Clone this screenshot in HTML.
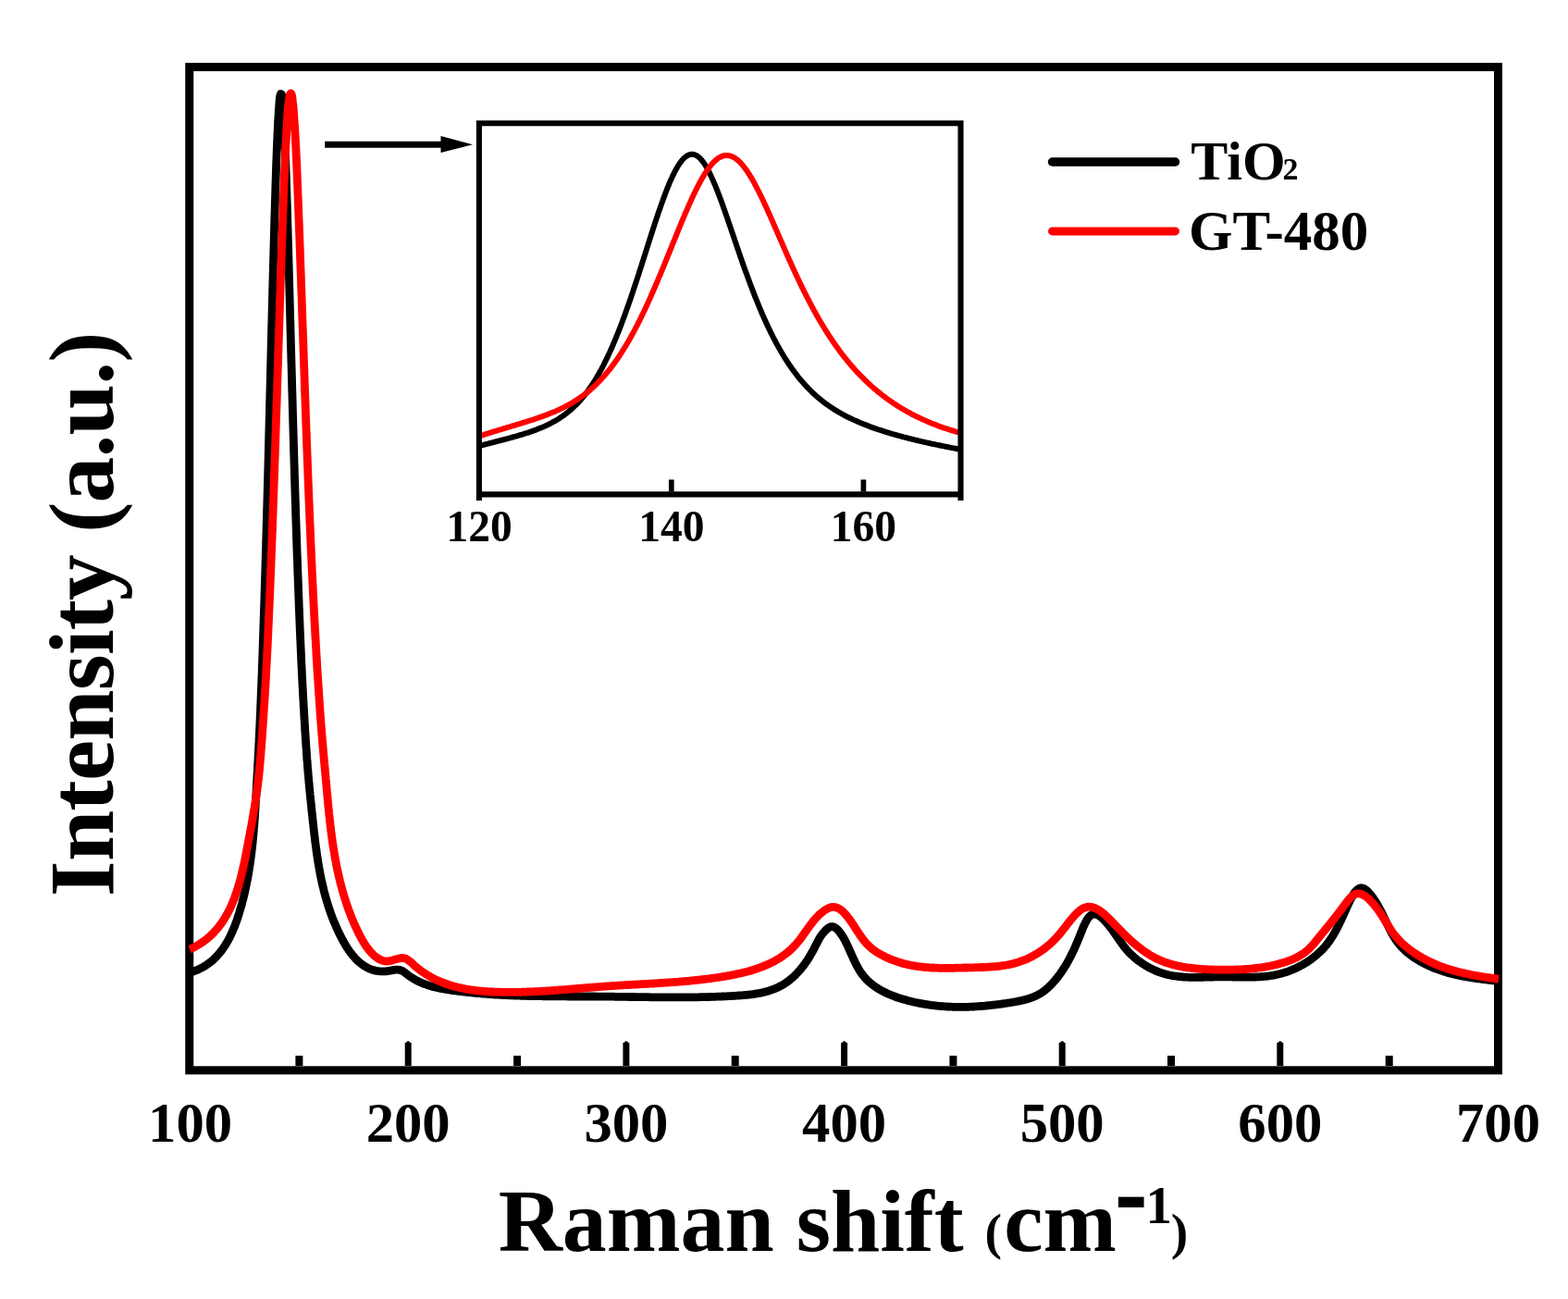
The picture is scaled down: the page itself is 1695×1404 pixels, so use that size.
<!DOCTYPE html>
<html><head><meta charset="utf-8"><title>Raman shift</title>
<style>html,body{margin:0;padding:0;background:#fff;} svg{display:block;}</style>
</head><body>
<svg width="1695" height="1404" viewBox="0 0 1695 1404">
<rect width="1695" height="1404" fill="#fff"/>
<g font-family='"Liberation Serif", "Times New Roman", serif' font-weight="bold" fill="#000">
<text x="205.6" y="1233.5" text-anchor="middle" font-size="60.7">100</text><text x="441.2" y="1233.5" text-anchor="middle" font-size="60.7">200</text><text x="676.9" y="1233.5" text-anchor="middle" font-size="60.7">300</text><text x="912.6" y="1233.5" text-anchor="middle" font-size="60.7">400</text><text x="1148.2" y="1233.5" text-anchor="middle" font-size="60.7">500</text><text x="1383.8" y="1233.5" text-anchor="middle" font-size="60.7">600</text><text x="1619.5" y="1233.5" text-anchor="middle" font-size="60.7">700</text>
<text x="518.2" y="585.3" text-anchor="middle" font-size="47.5">120</text><text x="725.8" y="585.3" text-anchor="middle" font-size="47.5">140</text><text x="933.4" y="585.3" text-anchor="middle" font-size="47.5">160</text>
<text transform="translate(121.6,968.9) rotate(-90)" font-size="99.5" textLength="610.3" lengthAdjust="spacing">Intensity (a.u.)</text>
<text x="538.7" y="1351.7" font-size="95.8">Raman shift</text>
<text x="1064.5" y="1350" font-size="55.6">(</text>
<text x="1085.3" y="1351.7" font-size="95.3">cm</text>
<text transform="matrix(1,0,0,1.26,1205.1,1331.3)" font-size="106.6">-</text>
<text x="1238.4" y="1322.4" font-size="57">1</text>
<text x="1265.7" y="1350" font-size="55.6">)</text>
<text x="1287.3" y="194.3" font-size="60">TiO</text>
<text x="1386.5" y="194" font-size="34">2</text>
<text x="1285" y="269.8" font-size="61">GT-480</text>
</g>
<g fill="none" stroke-linejoin="round" stroke-linecap="butt">
<path d="M204.9,1051.2 L206.3,1050.8 L207.7,1050.3 L209.2,1049.9 L210.6,1049.4 L212.0,1048.8 L213.4,1048.3 L214.7,1047.6 L216.1,1047.0 L217.4,1046.3 L218.8,1045.6 L220.1,1044.9 L221.4,1044.1 L222.6,1043.3 L223.9,1042.5 L225.1,1041.6 L226.3,1040.7 L227.5,1039.8 L228.7,1038.9 L229.8,1037.9 L230.9,1036.9 L232.0,1035.8 L233.1,1034.8 L234.1,1033.7 L235.1,1032.6 L236.1,1031.5 L237.1,1030.3 L238.1,1029.2 L239.0,1028.0 L239.9,1026.8 L240.8,1025.6 L241.6,1024.4 L242.5,1023.1 L243.3,1021.9 L244.1,1020.6 L244.9,1019.3 L245.6,1018.0 L246.4,1016.7 L247.1,1015.4 L247.8,1014.1 L248.5,1012.7 L249.1,1011.4 L249.8,1010.0 L250.4,1008.7 L251.0,1007.3 L251.6,1005.9 L252.2,1004.5 L252.8,1003.2 L253.4,1001.8 L253.9,1000.4 L254.4,999.0 L255.0,997.6 L255.5,996.2 L256.0,994.7 L256.5,993.3 L256.9,991.9 L257.4,990.5 L257.9,989.0 L258.3,987.6 L258.8,986.2 L259.2,984.7 L259.6,983.3 L260.0,981.9 L260.5,980.4 L260.9,979.0 L261.3,977.5 L261.7,976.1 L262.0,974.6 L262.4,973.2 L262.8,971.7 L263.2,970.3 L263.5,968.8 L263.9,967.4 L264.2,965.9 L264.6,964.4 L264.9,963.0 L265.2,961.5 L265.5,960.0 L265.8,958.6 L266.1,957.1 L266.4,955.6 L266.7,954.2 L267.0,952.7 L267.3,951.2 L267.6,949.7 L267.9,948.3 L268.1,946.8 L268.4,945.3 L268.6,943.8 L268.9,942.3 L269.1,940.9 L269.4,939.4 L269.6,937.9 L269.8,936.4 L270.1,934.9 L270.3,933.5 L270.5,932.0 L270.7,930.5 L270.9,929.0 L271.1,927.5 L271.3,926.0 L271.5,924.5 L271.7,923.0 L271.9,921.6 L272.0,920.1 L272.2,918.6 L272.4,917.1 L272.6,915.6 L272.7,914.1 L272.9,912.6 L273.0,911.1 L273.2,909.6 L273.3,908.1 L273.5,906.6 L273.6,905.1 L273.8,903.6 L273.9,902.1 L274.0,900.7 L274.2,899.2 L274.3,897.7 L274.4,896.2 L274.5,894.7 L274.6,893.2 L274.8,891.7 L274.9,890.2 L275.0,888.7 L275.1,887.2 L275.2,885.7 L275.3,884.2 L275.4,882.7 L275.5,881.2 L275.6,879.7 L275.7,878.2 L275.8,876.7 L275.9,875.2 L276.0,873.7 L276.1,872.2 L276.2,870.7 L276.3,869.2 L276.3,867.7 L276.4,866.2 L276.5,864.7 L276.6,863.2 L276.7,861.7 L276.8,860.2 L276.9,858.7 L276.9,857.2 L277.0,855.7 L277.1,854.2 L277.2,852.7 L277.3,851.2 L277.4,849.7 L277.4,848.2 L277.5,846.7 L277.6,845.2 L277.7,843.7 L277.8,842.3 L277.9,840.8 L277.9,839.3 L278.0,837.8 L278.1,836.3 L278.2,834.8 L278.3,833.3 L278.4,831.8 L278.5,830.3 L278.5,828.8 L278.6,827.3 L278.7,825.8 L278.8,824.3 L278.9,822.8 L279.0,821.3 L279.0,819.8 L279.1,818.3 L279.2,816.8 L279.3,815.3 L279.4,813.8 L279.4,812.3 L279.5,810.8 L279.6,809.3 L279.7,807.8 L279.8,806.3 L279.8,804.8 L279.9,803.3 L280.0,801.8 L280.1,800.3 L280.1,798.8 L280.2,797.3 L280.3,795.8 L280.3,794.3 L280.4,792.8 L280.5,791.3 L280.6,789.8 L280.6,788.3 L280.7,786.8 L280.8,785.3 L280.8,783.8 L280.9,782.3 L281.0,780.8 L281.0,779.3 L281.1,777.8 L281.2,776.3 L281.2,774.8 L281.3,773.3 L281.4,771.8 L281.4,770.3 L281.5,768.8 L281.6,767.3 L281.6,765.8 L281.7,764.3 L281.7,762.8 L281.8,761.3 L281.9,759.8 L281.9,758.3 L282.0,756.8 L282.1,755.3 L282.1,753.8 L282.2,752.3 L282.2,750.8 L282.3,749.3 L282.4,747.8 L282.4,746.3 L282.5,744.8 L282.5,743.3 L282.6,741.8 L282.7,740.3 L282.7,738.8 L282.8,737.3 L282.8,735.8 L282.9,734.3 L282.9,732.8 L283.0,731.3 L283.1,729.8 L283.1,728.3 L283.2,726.8 L283.2,725.3 L283.3,723.8 L283.3,722.3 L283.4,720.8 L283.4,719.3 L283.5,717.8 L283.6,716.3 L283.6,714.8 L283.7,713.3 L283.7,711.8 L283.8,710.3 L283.8,708.8 L283.9,707.3 L283.9,705.8 L284.0,704.3 L284.0,702.8 L284.1,701.3 L284.1,699.8 L284.2,698.3 L284.2,696.8 L284.3,695.3 L284.3,693.8 L284.4,692.3 L284.4,690.8 L284.5,689.3 L284.5,687.8 L284.6,686.3 L284.6,684.8 L284.7,683.3 L284.7,681.8 L284.8,680.3 L284.8,678.8 L284.9,677.3 L284.9,675.8 L285.0,674.3 L285.0,672.8 L285.1,671.3 L285.1,669.8 L285.2,668.3 L285.2,666.8 L285.3,665.3 L285.3,663.8 L285.4,662.3 L285.4,660.8 L285.5,659.3 L285.5,657.8 L285.6,656.3 L285.6,654.8 L285.7,653.3 L285.7,651.8 L285.8,650.3 L285.8,648.8 L285.9,647.3 L285.9,645.8 L285.9,644.3 L286.0,642.8 L286.0,641.3 L286.1,639.8 L286.1,638.3 L286.2,636.8 L286.2,635.3 L286.3,633.8 L286.3,632.3 L286.4,630.8 L286.4,629.3 L286.4,627.8 L286.5,626.3 L286.5,624.8 L286.6,623.3 L286.6,621.8 L286.7,620.3 L286.7,618.8 L286.8,617.3 L286.8,615.8 L286.9,614.3 L286.9,612.8 L286.9,611.3 L287.0,609.8 L287.0,608.3 L287.1,606.8 L287.1,605.3 L287.2,603.8 L287.2,602.3 L287.2,600.8 L287.3,599.3 L287.3,597.8 L287.4,596.3 L287.4,594.8 L287.5,593.3 L287.5,591.8 L287.6,590.3 L287.6,588.8 L287.6,587.3 L287.7,585.8 L287.7,584.3 L287.8,582.8 L287.8,581.3 L287.9,579.8 L287.9,578.3 L287.9,576.8 L288.0,575.3 L288.0,573.8 L288.1,572.3 L288.1,570.8 L288.1,569.3 L288.2,567.8 L288.2,566.3 L288.3,564.8 L288.3,563.3 L288.4,561.8 L288.4,560.3 L288.4,558.8 L288.5,557.3 L288.5,555.8 L288.6,554.3 L288.6,552.8 L288.6,551.3 L288.7,549.8 L288.7,548.3 L288.8,546.8 L288.8,545.3 L288.8,543.8 L288.9,542.3 L288.9,540.8 L289.0,539.3 L289.0,537.8 L289.0,536.3 L289.1,534.8 L289.1,533.3 L289.2,531.8 L289.2,530.3 L289.2,528.8 L289.3,527.3 L289.3,525.8 L289.4,524.3 L289.4,522.8 L289.4,521.3 L289.5,519.8 L289.5,518.3 L289.6,516.8 L289.6,515.3 L289.6,513.8 L289.7,512.3 L289.7,510.8 L289.8,509.3 L289.8,507.8 L289.8,506.3 L289.9,504.8 L289.9,503.3 L290.0,501.8 L290.0,500.3 L290.0,498.8 L290.1,497.3 L290.1,495.8 L290.2,494.3 L290.2,492.8 L290.2,491.3 L290.3,489.8 L290.3,488.3 L290.3,486.8 L290.4,485.3 L290.4,483.8 L290.5,482.3 L290.5,480.8 L290.5,479.3 L290.6,477.8 L290.6,476.3 L290.7,474.8 L290.7,473.3 L290.7,471.8 L290.8,470.3 L290.8,468.8 L290.8,467.3 L290.9,465.8 L290.9,464.3 L291.0,462.8 L291.0,461.3 L291.0,459.8 L291.1,458.3 L291.1,456.8 L291.1,455.3 L291.2,453.8 L291.2,452.3 L291.3,450.8 L291.3,449.3 L291.3,447.8 L291.4,446.3 L291.4,444.8 L291.5,443.3 L291.5,441.8 L291.5,440.3 L291.6,438.8 L291.6,437.3 L291.6,435.8 L291.7,434.3 L291.7,432.8 L291.8,431.3 L291.8,429.8 L291.8,428.3 L291.9,426.8 L291.9,425.3 L291.9,423.8 L292.0,422.3 L292.0,420.8 L292.1,419.3 L292.1,417.8 L292.1,416.3 L292.2,414.8 L292.2,413.3 L292.2,411.8 L292.3,410.3 L292.3,408.8 L292.4,407.3 L292.4,405.8 L292.4,404.3 L292.5,402.8 L292.5,401.3 L292.5,399.8 L292.6,398.3 L292.6,396.8 L292.6,395.3 L292.7,393.8 L292.7,392.3 L292.8,390.8 L292.8,389.3 L292.8,387.8 L292.9,386.3 L292.9,384.8 L292.9,383.3 L293.0,381.8 L293.0,380.3 L293.1,378.8 L293.1,377.3 L293.1,375.8 L293.2,374.3 L293.2,372.8 L293.2,371.3 L293.3,369.8 L293.3,368.3 L293.4,366.8 L293.4,365.3 L293.4,363.8 L293.5,362.3 L293.5,360.8 L293.6,359.3 L293.6,357.8 L293.6,356.3 L293.7,354.8 L293.7,353.3 L293.7,351.8 L293.8,350.3 L293.8,348.8 L293.9,347.3 L293.9,345.8 L293.9,344.3 L294.0,342.8 L294.0,341.3 L294.0,339.8 L294.1,338.3 L294.1,336.8 L294.2,335.3 L294.2,333.8 L294.2,332.3 L294.3,330.8 L294.3,329.3 L294.4,327.8 L294.4,326.3 L294.4,324.8 L294.5,323.3 L294.5,321.8 L294.6,320.3 L294.6,318.8 L294.6,317.3 L294.7,315.8 L294.7,314.3 L294.7,312.8 L294.8,311.3 L294.8,309.8 L294.9,308.3 L294.9,306.8 L294.9,305.3 L295.0,303.8 L295.0,302.3 L295.1,300.8 L295.1,299.3 L295.1,297.8 L295.2,296.3 L295.2,294.8 L295.3,293.3 L295.3,291.8 L295.3,290.3 L295.4,288.8 L295.4,287.3 L295.5,285.8 L295.5,284.3 L295.5,282.8 L295.6,281.3 L295.6,279.8 L295.7,278.3 L295.7,276.8 L295.8,275.3 L295.8,273.8 L295.8,272.3 L295.9,270.8 L295.9,269.3 L296.0,267.8 L296.0,266.3 L296.0,264.8 L296.1,263.3 L296.1,261.8 L296.2,260.3 L296.2,258.8 L296.3,257.3 L296.3,255.8 L296.3,254.3 L296.4,252.8 L296.4,251.3 L296.5,249.8 L296.5,248.3 L296.5,246.8 L296.6,245.3 L296.6,243.8 L296.7,242.3 L296.7,240.8 L296.8,239.3 L296.8,237.8 L296.9,236.3 L296.9,234.8 L296.9,233.3 L297.0,231.8 L297.0,230.3 L297.1,228.8 L297.1,227.3 L297.2,225.8 L297.2,224.3 L297.3,222.8 L297.3,221.3 L297.3,219.8 L297.4,218.3 L297.4,216.8 L297.5,215.3 L297.5,213.8 L297.6,212.3 L297.6,210.8 L297.7,209.3 L297.7,207.8 L297.8,206.3 L297.8,204.8 L297.8,203.3 L297.9,201.8 L297.9,200.3 L298.0,198.8 L298.0,197.3 L298.1,195.8 L298.1,194.3 L298.2,192.8 L298.2,191.3 L298.3,189.8 L298.3,188.3 L298.4,186.8 L298.4,185.3 L298.5,183.8 L298.5,182.3 L298.6,180.8 L298.6,179.3 L298.7,177.8 L298.7,176.3 L298.8,174.8 L298.8,173.3 L298.9,171.8 L299.0,170.3 L299.0,168.8 L299.1,167.3 L299.1,165.8 L299.2,164.3 L299.2,162.8 L299.3,161.3 L299.4,159.8 L299.4,158.3 L299.5,156.8 L299.5,155.3 L299.6,153.8 L299.7,152.3 L299.7,150.8 L299.8,149.3 L299.9,147.8 L299.9,146.3 L300.0,144.8 L300.1,143.3 L300.1,141.8 L300.2,140.3 L300.3,138.8 L300.4,137.3 L300.4,135.8 L300.5,134.3 L300.6,132.8 L300.6,131.3 L300.7,129.8 L300.8,128.3 L300.9,126.8 L301.0,125.3 L301.1,123.8 L301.2,122.3 L301.2,120.8 L301.3,119.3 L301.5,117.9 L301.6,116.4 L301.7,114.9 L301.8,113.4 L301.9,111.9 L302.0,110.4 L302.1,108.9 L302.3,107.4 L302.4,105.9 L302.6,104.4 L303.0,102.9 L303.5,101.5 L304.3,101.7 L304.6,103.2 L304.8,104.7 L305.0,106.2 L305.2,107.7 L305.4,109.1 L305.6,110.6 L305.7,112.1 L305.9,113.6 L306.0,115.1 L306.1,116.6 L306.2,118.1 L306.3,119.6 L306.4,121.1 L306.5,122.6 L306.6,124.1 L306.7,125.6 L306.7,127.1 L306.8,128.6 L306.9,130.1 L306.9,131.6 L307.0,133.1 L307.1,134.6 L307.1,136.1 L307.2,137.6 L307.3,139.1 L307.3,140.6 L307.4,142.1 L307.5,143.6 L307.5,145.1 L307.6,146.6 L307.7,148.1 L307.7,149.6 L307.8,151.1 L307.9,152.6 L307.9,154.1 L308.0,155.6 L308.1,157.1 L308.1,158.6 L308.2,160.1 L308.3,161.6 L308.3,163.1 L308.4,164.6 L308.4,166.1 L308.5,167.6 L308.5,169.1 L308.6,170.6 L308.7,172.1 L308.7,173.6 L308.8,175.1 L308.8,176.6 L308.9,178.1 L308.9,179.6 L309.0,181.1 L309.0,182.6 L309.1,184.1 L309.1,185.6 L309.2,187.1 L309.2,188.6 L309.3,190.1 L309.3,191.6 L309.4,193.1 L309.4,194.6 L309.5,196.1 L309.5,197.6 L309.6,199.1 L309.6,200.6 L309.7,202.1 L309.7,203.6 L309.8,205.1 L309.8,206.6 L309.9,208.1 L309.9,209.6 L309.9,211.1 L310.0,212.6 L310.0,214.1 L310.1,215.6 L310.1,217.1 L310.2,218.6 L310.2,220.1 L310.3,221.6 L310.3,223.1 L310.4,224.6 L310.4,226.1 L310.4,227.6 L310.5,229.1 L310.5,230.6 L310.6,232.1 L310.6,233.6 L310.7,235.1 L310.7,236.6 L310.8,238.1 L310.8,239.6 L310.8,241.1 L310.9,242.6 L310.9,244.1 L311.0,245.6 L311.0,247.1 L311.1,248.6 L311.1,250.1 L311.1,251.6 L311.2,253.1 L311.2,254.6 L311.3,256.1 L311.3,257.6 L311.4,259.1 L311.4,260.6 L311.4,262.1 L311.5,263.6 L311.5,265.1 L311.6,266.6 L311.6,268.1 L311.7,269.6 L311.7,271.1 L311.7,272.6 L311.8,274.1 L311.8,275.6 L311.9,277.1 L311.9,278.6 L312.0,280.1 L312.0,281.6 L312.0,283.1 L312.1,284.6 L312.1,286.1 L312.2,287.6 L312.2,289.1 L312.2,290.6 L312.3,292.1 L312.3,293.6 L312.4,295.1 L312.4,296.6 L312.5,298.1 L312.5,299.6 L312.5,301.1 L312.6,302.6 L312.6,304.1 L312.7,305.6 L312.7,307.1 L312.7,308.6 L312.8,310.1 L312.8,311.6 L312.9,313.1 L312.9,314.6 L312.9,316.1 L313.0,317.6 L313.0,319.1 L313.1,320.6 L313.1,322.1 L313.1,323.6 L313.2,325.1 L313.2,326.6 L313.3,328.1 L313.3,329.6 L313.4,331.1 L313.4,332.6 L313.4,334.1 L313.5,335.6 L313.5,337.1 L313.6,338.6 L313.6,340.1 L313.6,341.6 L313.7,343.1 L313.7,344.6 L313.8,346.1 L313.8,347.6 L313.8,349.1 L313.9,350.6 L313.9,352.1 L314.0,353.6 L314.0,355.1 L314.0,356.6 L314.1,358.1 L314.1,359.6 L314.2,361.1 L314.2,362.6 L314.2,364.1 L314.3,365.6 L314.3,367.1 L314.4,368.6 L314.4,370.1 L314.4,371.6 L314.5,373.1 L314.5,374.6 L314.6,376.1 L314.6,377.6 L314.6,379.1 L314.7,380.6 L314.7,382.1 L314.8,383.6 L314.8,385.1 L314.8,386.6 L314.9,388.1 L314.9,389.6 L315.0,391.1 L315.0,392.6 L315.1,394.1 L315.1,395.6 L315.1,397.1 L315.2,398.6 L315.2,400.1 L315.3,401.6 L315.3,403.1 L315.3,404.6 L315.4,406.1 L315.4,407.6 L315.5,409.1 L315.5,410.6 L315.5,412.1 L315.6,413.6 L315.6,415.1 L315.7,416.6 L315.7,418.1 L315.7,419.6 L315.8,421.1 L315.8,422.6 L315.9,424.1 L315.9,425.6 L316.0,427.1 L316.0,428.6 L316.0,430.1 L316.1,431.6 L316.1,433.1 L316.2,434.6 L316.2,436.1 L316.2,437.6 L316.3,439.1 L316.3,440.6 L316.4,442.1 L316.4,443.6 L316.4,445.1 L316.5,446.6 L316.5,448.1 L316.6,449.6 L316.6,451.1 L316.7,452.6 L316.7,454.1 L316.7,455.6 L316.8,457.1 L316.8,458.6 L316.9,460.1 L316.9,461.6 L317.0,463.1 L317.0,464.6 L317.0,466.1 L317.1,467.6 L317.1,469.1 L317.2,470.6 L317.2,472.1 L317.3,473.6 L317.3,475.1 L317.3,476.6 L317.4,478.1 L317.4,479.6 L317.5,481.1 L317.5,482.6 L317.6,484.1 L317.6,485.6 L317.6,487.1 L317.7,488.6 L317.7,490.1 L317.8,491.6 L317.8,493.1 L317.9,494.6 L317.9,496.1 L317.9,497.6 L318.0,499.1 L318.0,500.6 L318.1,502.1 L318.1,503.6 L318.2,505.1 L318.2,506.6 L318.3,508.1 L318.3,509.6 L318.3,511.1 L318.4,512.6 L318.4,514.1 L318.5,515.6 L318.5,517.1 L318.6,518.6 L318.6,520.1 L318.7,521.6 L318.7,523.1 L318.8,524.6 L318.8,526.1 L318.8,527.6 L318.9,529.1 L318.9,530.6 L319.0,532.1 L319.0,533.6 L319.1,535.1 L319.1,536.6 L319.2,538.1 L319.2,539.6 L319.3,541.1 L319.3,542.6 L319.4,544.1 L319.4,545.6 L319.5,547.1 L319.5,548.6 L319.6,550.1 L319.6,551.6 L319.6,553.1 L319.7,554.6 L319.7,556.1 L319.8,557.6 L319.8,559.1 L319.9,560.6 L319.9,562.1 L320.0,563.6 L320.0,565.1 L320.1,566.6 L320.1,568.1 L320.2,569.6 L320.2,571.1 L320.3,572.6 L320.3,574.1 L320.4,575.6 L320.4,577.1 L320.5,578.6 L320.5,580.1 L320.6,581.6 L320.6,583.1 L320.7,584.6 L320.7,586.1 L320.8,587.6 L320.8,589.1 L320.9,590.6 L320.9,592.1 L321.0,593.6 L321.0,595.1 L321.1,596.6 L321.1,598.1 L321.2,599.6 L321.2,601.1 L321.3,602.6 L321.4,604.1 L321.4,605.6 L321.5,607.1 L321.5,608.6 L321.6,610.1 L321.6,611.6 L321.7,613.1 L321.7,614.6 L321.8,616.1 L321.8,617.6 L321.9,619.1 L321.9,620.6 L322.0,622.1 L322.1,623.6 L322.1,625.1 L322.2,626.6 L322.2,628.1 L322.3,629.6 L322.3,631.1 L322.4,632.6 L322.4,634.1 L322.5,635.6 L322.6,637.1 L322.6,638.6 L322.7,640.1 L322.7,641.6 L322.8,643.1 L322.8,644.6 L322.9,646.1 L323.0,647.6 L323.0,649.1 L323.1,650.6 L323.1,652.1 L323.2,653.6 L323.2,655.1 L323.3,656.6 L323.4,658.1 L323.4,659.6 L323.5,661.1 L323.5,662.6 L323.6,664.1 L323.7,665.6 L323.7,667.1 L323.8,668.6 L323.8,670.1 L323.9,671.6 L324.0,673.1 L324.0,674.6 L324.1,676.1 L324.1,677.6 L324.2,679.1 L324.3,680.6 L324.3,682.1 L324.4,683.6 L324.5,685.1 L324.5,686.6 L324.6,688.1 L324.6,689.6 L324.7,691.0 L324.8,692.5 L324.8,694.0 L324.9,695.5 L325.0,697.0 L325.0,698.5 L325.1,700.0 L325.2,701.5 L325.2,703.0 L325.3,704.5 L325.4,706.0 L325.4,707.5 L325.5,709.0 L325.6,710.5 L325.6,712.0 L325.7,713.5 L325.8,715.0 L325.8,716.5 L325.9,718.0 L326.0,719.5 L326.1,721.0 L326.1,722.5 L326.2,724.0 L326.3,725.5 L326.3,727.0 L326.4,728.5 L326.5,730.0 L326.6,731.5 L326.6,733.0 L326.7,734.5 L326.8,736.0 L326.9,737.5 L326.9,739.0 L327.0,740.5 L327.1,742.0 L327.2,743.5 L327.3,745.0 L327.3,746.5 L327.4,748.0 L327.5,749.5 L327.6,751.0 L327.7,752.5 L327.7,754.0 L327.8,755.5 L327.9,757.0 L328.0,758.5 L328.1,760.0 L328.1,761.5 L328.2,763.0 L328.3,764.5 L328.4,766.0 L328.5,767.5 L328.6,769.0 L328.7,770.5 L328.7,772.0 L328.8,773.5 L328.9,775.0 L329.0,776.5 L329.1,778.0 L329.2,779.5 L329.3,781.0 L329.4,782.5 L329.5,784.0 L329.6,785.5 L329.6,787.0 L329.7,788.5 L329.8,790.0 L329.9,791.5 L330.0,793.0 L330.1,794.5 L330.2,795.9 L330.3,797.4 L330.4,798.9 L330.5,800.4 L330.6,801.9 L330.7,803.4 L330.8,804.9 L330.9,806.4 L331.0,807.9 L331.1,809.4 L331.2,810.9 L331.3,812.4 L331.4,813.9 L331.5,815.4 L331.6,816.9 L331.7,818.4 L331.8,819.9 L331.9,821.4 L332.1,822.9 L332.2,824.4 L332.3,825.9 L332.4,827.4 L332.5,828.9 L332.6,830.4 L332.8,831.9 L332.9,833.4 L333.0,834.9 L333.1,836.4 L333.3,837.9 L333.4,839.4 L333.5,840.8 L333.7,842.3 L333.8,843.8 L333.9,845.3 L334.1,846.8 L334.2,848.3 L334.3,849.8 L334.5,851.3 L334.6,852.8 L334.8,854.3 L334.9,855.8 L335.1,857.3 L335.2,858.8 L335.4,860.3 L335.5,861.8 L335.6,863.3 L335.8,864.7 L336.0,866.2 L336.1,867.7 L336.3,869.2 L336.4,870.7 L336.6,872.2 L336.7,873.7 L336.9,875.2 L337.0,876.7 L337.2,878.2 L337.4,879.7 L337.5,881.2 L337.7,882.7 L337.8,884.2 L338.0,885.6 L338.2,887.1 L338.3,888.6 L338.5,890.1 L338.7,891.6 L338.8,893.1 L339.0,894.6 L339.1,896.1 L339.3,897.6 L339.5,899.1 L339.7,900.6 L339.8,902.0 L340.0,903.5 L340.2,905.0 L340.4,906.5 L340.5,908.0 L340.7,909.5 L340.9,911.0 L341.1,912.5 L341.3,914.0 L341.5,915.5 L341.7,916.9 L341.9,918.4 L342.1,919.9 L342.3,921.4 L342.5,922.9 L342.7,924.4 L343.0,925.9 L343.2,927.3 L343.4,928.8 L343.6,930.3 L343.9,931.8 L344.1,933.3 L344.4,934.7 L344.6,936.2 L344.9,937.7 L345.1,939.2 L345.4,940.7 L345.7,942.1 L345.9,943.6 L346.2,945.1 L346.5,946.6 L346.8,948.0 L347.1,949.5 L347.4,951.0 L347.7,952.4 L348.1,953.9 L348.4,955.4 L348.7,956.8 L349.1,958.3 L349.4,959.7 L349.8,961.2 L350.1,962.7 L350.5,964.1 L350.9,965.6 L351.3,967.0 L351.7,968.5 L352.1,969.9 L352.5,971.4 L352.9,972.8 L353.3,974.2 L353.8,975.7 L354.2,977.1 L354.6,978.5 L355.1,980.0 L355.6,981.4 L356.1,982.8 L356.5,984.2 L357.0,985.6 L357.5,987.1 L358.0,988.5 L358.6,989.9 L359.1,991.3 L359.6,992.7 L360.2,994.1 L360.7,995.5 L361.3,996.9 L361.9,998.2 L362.5,999.6 L363.1,1001.0 L363.7,1002.4 L364.3,1003.7 L364.9,1005.1 L365.6,1006.5 L366.2,1007.8 L366.9,1009.2 L367.5,1010.5 L368.2,1011.9 L368.9,1013.2 L369.6,1014.5 L370.3,1015.9 L371.0,1017.2 L371.7,1018.5 L372.5,1019.8 L373.3,1021.1 L374.0,1022.4 L374.8,1023.6 L375.6,1024.9 L376.5,1026.1 L377.3,1027.4 L378.2,1028.6 L379.1,1029.8 L380.0,1031.0 L380.9,1032.2 L381.9,1033.3 L382.9,1034.5 L383.9,1035.6 L384.9,1036.7 L386.0,1037.7 L387.0,1038.8 L388.2,1039.8 L389.3,1040.7 L390.5,1041.7 L391.7,1042.6 L392.9,1043.4 L394.2,1044.3 L395.4,1045.0 L396.8,1045.8 L398.1,1046.4 L399.5,1047.1 L400.9,1047.6 L402.3,1048.1 L403.7,1048.6 L405.2,1048.9 L406.6,1049.3 L408.1,1049.5 L409.6,1049.7 L411.1,1049.8 L412.6,1049.9 L414.1,1049.9 L415.6,1049.9 L417.1,1049.8 L418.6,1049.6 L420.1,1049.4 L421.5,1049.2 L423.0,1048.9 L424.5,1048.6 L426.0,1048.4 L427.5,1048.2 L429.0,1048.1 L430.5,1048.1 L431.9,1048.3 L433.4,1048.7 L434.8,1049.3 L436.1,1050.1 L437.3,1050.9 L438.5,1051.8 L439.7,1052.8 L440.8,1053.7 L442.0,1054.6 L443.3,1055.5 L444.5,1056.3 L445.8,1057.1 L447.1,1057.9 L448.4,1058.6 L449.7,1059.4 L451.0,1060.1 L452.3,1060.7 L453.7,1061.4 L455.1,1062.0 L456.5,1062.6 L457.8,1063.1 L459.2,1063.7 L460.7,1064.2 L462.1,1064.7 L463.5,1065.1 L464.9,1065.6 L466.4,1066.0 L467.8,1066.4 L469.3,1066.8 L470.7,1067.1 L472.2,1067.5 L473.7,1067.8 L475.1,1068.1 L476.6,1068.4 L478.1,1068.7 L479.5,1068.9 L481.0,1069.2 L482.5,1069.4 L484.0,1069.7 L485.5,1069.9 L487.0,1070.1 L488.4,1070.3 L489.9,1070.6 L491.4,1070.8 L492.9,1071.0 L494.4,1071.2 L495.9,1071.4 L497.4,1071.5 L498.9,1071.7 L500.3,1071.9 L501.8,1072.1 L503.3,1072.2 L504.8,1072.4 L506.3,1072.6 L507.8,1072.7 L509.3,1072.9 L510.8,1073.0 L512.3,1073.2 L513.8,1073.3 L515.3,1073.5 L516.8,1073.6 L518.3,1073.7 L519.8,1073.9 L521.3,1074.0 L522.7,1074.1 L524.2,1074.2 L525.7,1074.3 L527.2,1074.5 L528.7,1074.6 L530.2,1074.7 L531.7,1074.8 L533.2,1074.9 L534.7,1075.0 L536.2,1075.1 L537.7,1075.1 L539.2,1075.2 L540.7,1075.3 L542.2,1075.4 L543.7,1075.5 L545.2,1075.5 L546.7,1075.6 L548.2,1075.7 L549.7,1075.8 L551.2,1075.8 L552.7,1075.9 L554.2,1075.9 L555.7,1076.0 L557.2,1076.1 L558.7,1076.1 L560.2,1076.2 L561.7,1076.2 L563.2,1076.3 L564.7,1076.3 L566.2,1076.3 L567.7,1076.4 L569.2,1076.4 L570.7,1076.5 L572.2,1076.5 L573.7,1076.5 L575.2,1076.6 L576.7,1076.6 L578.2,1076.6 L579.7,1076.6 L581.2,1076.7 L582.7,1076.7 L584.2,1076.7 L585.7,1076.7 L587.2,1076.8 L588.7,1076.8 L590.2,1076.8 L591.7,1076.8 L593.2,1076.8 L594.7,1076.8 L596.2,1076.9 L597.7,1076.9 L599.2,1076.9 L600.7,1076.9 L602.2,1076.9 L603.7,1076.9 L605.2,1076.9 L606.7,1076.9 L608.2,1076.9 L609.7,1076.9 L611.2,1076.9 L612.7,1076.9 L614.2,1077.0 L615.7,1077.0 L617.2,1077.0 L618.7,1077.0 L620.2,1077.0 L621.7,1077.0 L623.2,1077.0 L624.7,1077.0 L626.2,1077.0 L627.7,1077.0 L629.2,1077.0 L630.7,1077.0 L632.2,1077.0 L633.7,1077.0 L635.2,1077.0 L636.7,1077.0 L638.2,1077.0 L639.7,1077.0 L641.2,1077.0 L642.7,1077.0 L644.2,1077.1 L645.7,1077.1 L647.2,1077.1 L648.7,1077.1 L650.2,1077.1 L651.7,1077.1 L653.2,1077.1 L654.7,1077.1 L656.2,1077.2 L657.7,1077.2 L659.2,1077.2 L660.7,1077.2 L662.2,1077.2 L663.7,1077.2 L665.2,1077.3 L666.7,1077.3 L668.2,1077.3 L669.7,1077.3 L671.2,1077.3 L672.7,1077.4 L674.2,1077.4 L675.7,1077.4 L677.2,1077.4 L678.7,1077.4 L680.2,1077.5 L681.7,1077.5 L683.2,1077.5 L684.7,1077.5 L686.2,1077.5 L687.7,1077.6 L689.2,1077.6 L690.8,1077.6 L692.3,1077.6 L693.8,1077.6 L695.3,1077.7 L696.8,1077.7 L698.3,1077.7 L699.8,1077.7 L701.3,1077.7 L702.8,1077.8 L704.3,1077.8 L705.8,1077.8 L707.3,1077.8 L708.8,1077.8 L710.3,1077.8 L711.8,1077.9 L713.3,1077.9 L714.8,1077.9 L716.3,1077.9 L717.8,1077.9 L719.3,1077.9 L720.8,1077.9 L722.3,1077.9 L723.8,1077.9 L725.3,1077.9 L726.8,1077.9 L728.3,1077.9 L729.8,1077.9 L731.3,1077.9 L732.8,1077.9 L734.3,1077.9 L735.8,1077.9 L737.3,1077.9 L738.8,1077.9 L740.3,1077.9 L741.8,1077.9 L743.3,1077.9 L744.8,1077.9 L746.3,1077.9 L747.8,1077.9 L749.3,1077.8 L750.8,1077.8 L752.3,1077.8 L753.8,1077.8 L755.3,1077.8 L756.8,1077.7 L758.3,1077.7 L759.8,1077.7 L761.3,1077.6 L762.8,1077.6 L764.3,1077.6 L765.8,1077.5 L767.3,1077.5 L768.8,1077.4 L770.3,1077.4 L771.8,1077.3 L773.3,1077.3 L774.8,1077.2 L776.3,1077.2 L777.8,1077.1 L779.3,1077.1 L780.8,1077.0 L782.3,1076.9 L783.8,1076.9 L785.3,1076.8 L786.8,1076.7 L788.3,1076.7 L789.8,1076.6 L791.3,1076.5 L792.8,1076.4 L794.3,1076.3 L795.8,1076.2 L797.3,1076.1 L798.8,1076.0 L800.3,1075.9 L801.7,1075.8 L803.2,1075.7 L804.7,1075.6 L806.2,1075.4 L807.7,1075.3 L809.2,1075.1 L810.7,1075.0 L812.2,1074.8 L813.7,1074.6 L815.2,1074.4 L816.7,1074.1 L818.1,1073.9 L819.6,1073.6 L821.1,1073.4 L822.6,1073.1 L824.0,1072.8 L825.5,1072.4 L827.0,1072.1 L828.4,1071.7 L829.8,1071.3 L831.3,1070.9 L832.7,1070.4 L834.1,1069.9 L835.6,1069.4 L837.0,1068.9 L838.3,1068.3 L839.7,1067.7 L841.1,1067.1 L842.4,1066.4 L843.8,1065.8 L845.1,1065.0 L846.4,1064.3 L847.7,1063.5 L848.9,1062.7 L850.2,1061.8 L851.4,1061.0 L852.6,1060.1 L853.8,1059.1 L854.9,1058.2 L856.1,1057.2 L857.2,1056.2 L858.3,1055.2 L859.4,1054.2 L860.4,1053.1 L861.5,1052.0 L862.5,1050.9 L863.5,1049.8 L864.5,1048.7 L865.5,1047.6 L866.4,1046.4 L867.4,1045.2 L868.3,1044.0 L869.2,1042.8 L870.1,1041.6 L871.0,1040.4 L871.8,1039.2 L872.7,1037.9 L873.5,1036.7 L874.3,1035.4 L875.1,1034.1 L875.8,1032.8 L876.6,1031.5 L877.3,1030.2 L878.1,1028.9 L878.8,1027.6 L879.5,1026.3 L880.2,1024.9 L880.8,1023.6 L881.5,1022.3 L882.2,1020.9 L882.9,1019.6 L883.6,1018.3 L884.3,1016.9 L885.0,1015.6 L885.7,1014.3 L886.5,1013.0 L887.3,1011.8 L888.2,1010.6 L889.1,1009.3 L890.0,1008.2 L891.0,1007.1 L892.1,1006.0 L893.1,1004.9 L894.3,1003.9 L895.4,1003.0 L896.7,1002.2 L898.1,1001.7 L899.6,1001.5 L901.1,1001.8 L902.4,1002.4 L903.7,1003.2 L904.8,1004.2 L905.9,1005.3 L906.8,1006.4 L907.8,1007.6 L908.7,1008.8 L909.5,1010.0 L910.4,1011.3 L911.2,1012.5 L911.9,1013.8 L912.7,1015.1 L913.4,1016.4 L914.1,1017.8 L914.8,1019.1 L915.4,1020.5 L916.1,1021.8 L916.7,1023.2 L917.3,1024.5 L917.9,1025.9 L918.5,1027.3 L919.1,1028.7 L919.7,1030.0 L920.4,1031.4 L921.0,1032.8 L921.6,1034.1 L922.2,1035.5 L922.8,1036.9 L923.5,1038.2 L924.1,1039.6 L924.8,1040.9 L925.5,1042.3 L926.1,1043.6 L926.9,1044.9 L927.6,1046.2 L928.3,1047.5 L929.1,1048.8 L929.9,1050.1 L930.8,1051.3 L931.6,1052.5 L932.5,1053.7 L933.5,1054.9 L934.4,1056.1 L935.4,1057.2 L936.4,1058.3 L937.5,1059.4 L938.6,1060.4 L939.7,1061.4 L940.8,1062.4 L942.0,1063.4 L943.1,1064.3 L944.3,1065.2 L945.6,1066.1 L946.8,1066.9 L948.0,1067.8 L949.3,1068.6 L950.6,1069.3 L951.9,1070.1 L953.2,1070.8 L954.5,1071.5 L955.9,1072.2 L957.2,1072.9 L958.6,1073.5 L959.9,1074.1 L961.3,1074.7 L962.7,1075.3 L964.1,1075.9 L965.5,1076.4 L966.9,1076.9 L968.3,1077.5 L969.7,1078.0 L971.1,1078.4 L972.6,1078.9 L974.0,1079.3 L975.4,1079.8 L976.9,1080.2 L978.3,1080.6 L979.8,1081.0 L981.2,1081.4 L982.7,1081.8 L984.1,1082.1 L985.6,1082.5 L987.0,1082.8 L988.5,1083.2 L990.0,1083.5 L991.4,1083.8 L992.9,1084.1 L994.4,1084.4 L995.9,1084.7 L997.3,1084.9 L998.8,1085.2 L1000.3,1085.4 L1001.8,1085.7 L1003.3,1085.9 L1004.7,1086.1 L1006.2,1086.3 L1007.7,1086.5 L1009.2,1086.7 L1010.7,1086.9 L1012.2,1087.0 L1013.7,1087.2 L1015.2,1087.3 L1016.7,1087.5 L1018.2,1087.6 L1019.7,1087.7 L1021.2,1087.8 L1022.7,1087.9 L1024.2,1088.0 L1025.7,1088.1 L1027.2,1088.2 L1028.7,1088.2 L1030.2,1088.3 L1031.7,1088.3 L1033.2,1088.3 L1034.7,1088.4 L1036.2,1088.4 L1037.7,1088.4 L1039.2,1088.4 L1040.7,1088.4 L1042.2,1088.4 L1043.7,1088.3 L1045.2,1088.3 L1046.7,1088.3 L1048.2,1088.2 L1049.7,1088.1 L1051.2,1088.1 L1052.7,1088.0 L1054.2,1087.9 L1055.7,1087.8 L1057.1,1087.7 L1058.6,1087.6 L1060.1,1087.5 L1061.6,1087.4 L1063.1,1087.3 L1064.6,1087.2 L1066.1,1087.0 L1067.6,1086.9 L1069.1,1086.7 L1070.6,1086.6 L1072.1,1086.4 L1073.6,1086.2 L1075.1,1086.1 L1076.6,1085.9 L1078.1,1085.7 L1079.5,1085.5 L1081.0,1085.3 L1082.5,1085.1 L1084.0,1084.9 L1085.5,1084.7 L1087.0,1084.5 L1088.5,1084.2 L1089.9,1084.0 L1091.4,1083.8 L1092.9,1083.5 L1094.4,1083.3 L1095.9,1083.0 L1097.3,1082.8 L1098.8,1082.5 L1100.3,1082.2 L1101.8,1081.9 L1103.2,1081.6 L1104.7,1081.3 L1106.2,1080.9 L1107.6,1080.6 L1109.1,1080.2 L1110.5,1079.8 L1111.9,1079.3 L1113.4,1078.9 L1114.8,1078.4 L1116.2,1077.8 L1117.6,1077.3 L1119.0,1076.7 L1120.3,1076.1 L1121.7,1075.4 L1123.0,1074.7 L1124.3,1074.0 L1125.6,1073.2 L1126.8,1072.4 L1128.1,1071.5 L1129.3,1070.6 L1130.4,1069.7 L1131.6,1068.7 L1132.7,1067.7 L1133.8,1066.7 L1134.9,1065.6 L1136.0,1064.6 L1137.0,1063.5 L1138.0,1062.4 L1139.0,1061.3 L1140.0,1060.1 L1141.0,1059.0 L1141.9,1057.8 L1142.9,1056.7 L1143.8,1055.5 L1144.7,1054.3 L1145.6,1053.1 L1146.5,1051.9 L1147.3,1050.6 L1148.2,1049.4 L1149.0,1048.2 L1149.8,1046.9 L1150.6,1045.6 L1151.4,1044.4 L1152.2,1043.1 L1153.0,1041.8 L1153.7,1040.5 L1154.4,1039.2 L1155.2,1037.9 L1155.9,1036.5 L1156.6,1035.2 L1157.3,1033.9 L1157.9,1032.5 L1158.6,1031.2 L1159.3,1029.8 L1159.9,1028.5 L1160.6,1027.1 L1161.2,1025.8 L1161.8,1024.4 L1162.4,1023.0 L1163.0,1021.7 L1163.6,1020.3 L1164.2,1018.9 L1164.8,1017.5 L1165.4,1016.1 L1165.9,1014.7 L1166.5,1013.3 L1167.1,1012.0 L1167.6,1010.6 L1168.2,1009.2 L1168.7,1007.8 L1169.3,1006.4 L1169.9,1005.0 L1170.4,1003.6 L1171.0,1002.2 L1171.6,1000.9 L1172.2,999.5 L1172.9,998.1 L1173.5,996.8 L1174.3,995.5 L1175.0,994.2 L1175.8,992.9 L1176.7,991.7 L1177.7,990.6 L1178.8,989.5 L1180.0,988.7 L1181.4,988.1 L1182.9,988.0 L1184.4,988.1 L1185.8,988.6 L1187.2,989.2 L1188.5,990.0 L1189.7,990.9 L1190.8,991.8 L1192.0,992.8 L1193.0,993.9 L1194.1,994.9 L1195.1,996.0 L1196.1,997.2 L1197.1,998.3 L1198.0,999.5 L1199.0,1000.6 L1199.9,1001.8 L1200.8,1003.0 L1201.7,1004.2 L1202.6,1005.4 L1203.4,1006.6 L1204.3,1007.9 L1205.2,1009.1 L1206.0,1010.3 L1206.9,1011.6 L1207.8,1012.8 L1208.6,1014.0 L1209.5,1015.3 L1210.3,1016.5 L1211.2,1017.7 L1212.1,1018.9 L1212.9,1020.2 L1213.8,1021.4 L1214.7,1022.6 L1215.7,1023.7 L1216.6,1024.9 L1217.5,1026.1 L1218.5,1027.2 L1219.5,1028.4 L1220.5,1029.5 L1221.6,1030.5 L1222.6,1031.6 L1223.7,1032.6 L1224.8,1033.6 L1225.9,1034.6 L1227.1,1035.6 L1228.2,1036.6 L1229.4,1037.5 L1230.6,1038.4 L1231.8,1039.3 L1233.1,1040.1 L1234.3,1041.0 L1235.5,1041.8 L1236.8,1042.6 L1238.1,1043.4 L1239.4,1044.2 L1240.7,1044.9 L1242.0,1045.7 L1243.3,1046.4 L1244.7,1047.0 L1246.0,1047.7 L1247.4,1048.3 L1248.7,1049.0 L1250.1,1049.5 L1251.5,1050.1 L1252.9,1050.7 L1254.3,1051.2 L1255.7,1051.6 L1257.2,1052.1 L1258.6,1052.5 L1260.0,1052.9 L1261.5,1053.3 L1263.0,1053.7 L1264.4,1054.0 L1265.9,1054.3 L1267.4,1054.6 L1268.8,1054.8 L1270.3,1055.0 L1271.8,1055.2 L1273.3,1055.4 L1274.8,1055.6 L1276.3,1055.7 L1277.8,1055.9 L1279.3,1056.0 L1280.8,1056.1 L1282.3,1056.2 L1283.8,1056.2 L1285.3,1056.3 L1286.8,1056.3 L1288.3,1056.3 L1289.8,1056.4 L1291.3,1056.4 L1292.8,1056.4 L1294.3,1056.4 L1295.8,1056.3 L1297.3,1056.3 L1298.8,1056.3 L1300.3,1056.3 L1301.8,1056.2 L1303.3,1056.2 L1304.8,1056.1 L1306.3,1056.1 L1307.8,1056.1 L1309.3,1056.0 L1310.8,1056.0 L1312.3,1055.9 L1313.8,1055.9 L1315.3,1055.9 L1316.8,1055.9 L1318.3,1055.8 L1319.8,1055.8 L1321.3,1055.8 L1322.8,1055.8 L1324.3,1055.8 L1325.8,1055.9 L1327.3,1055.9 L1328.8,1055.9 L1330.3,1055.9 L1331.8,1055.9 L1333.3,1056.0 L1334.8,1056.0 L1336.3,1056.0 L1337.8,1056.1 L1339.3,1056.1 L1340.8,1056.1 L1342.3,1056.1 L1343.8,1056.1 L1345.3,1056.2 L1346.8,1056.2 L1348.3,1056.2 L1349.8,1056.2 L1351.3,1056.1 L1352.8,1056.1 L1354.3,1056.1 L1355.8,1056.1 L1357.3,1056.0 L1358.8,1055.9 L1360.3,1055.9 L1361.8,1055.8 L1363.3,1055.7 L1364.8,1055.6 L1366.3,1055.4 L1367.8,1055.3 L1369.3,1055.1 L1370.8,1055.0 L1372.2,1054.8 L1373.7,1054.5 L1375.2,1054.3 L1376.7,1054.1 L1378.2,1053.8 L1379.6,1053.5 L1381.1,1053.2 L1382.6,1052.8 L1384.0,1052.5 L1385.5,1052.1 L1386.9,1051.7 L1388.4,1051.2 L1389.8,1050.8 L1391.2,1050.3 L1392.6,1049.8 L1394.0,1049.3 L1395.4,1048.7 L1396.8,1048.2 L1398.2,1047.6 L1399.6,1047.0 L1400.9,1046.4 L1402.3,1045.7 L1403.6,1045.1 L1405.0,1044.4 L1406.3,1043.7 L1407.6,1043.0 L1408.9,1042.2 L1410.2,1041.4 L1411.5,1040.7 L1412.8,1039.9 L1414.0,1039.0 L1415.3,1038.2 L1416.5,1037.4 L1417.7,1036.5 L1418.9,1035.6 L1420.1,1034.7 L1421.3,1033.7 L1422.5,1032.8 L1423.6,1031.8 L1424.7,1030.8 L1425.8,1029.8 L1426.9,1028.8 L1428.0,1027.7 L1429.1,1026.7 L1430.1,1025.6 L1431.1,1024.5 L1432.1,1023.4 L1433.1,1022.2 L1434.0,1021.1 L1435.0,1019.9 L1435.9,1018.7 L1436.8,1017.5 L1437.6,1016.3 L1438.5,1015.0 L1439.3,1013.8 L1440.1,1012.5 L1440.9,1011.2 L1441.7,1009.9 L1442.4,1008.6 L1443.2,1007.3 L1443.9,1006.0 L1444.6,1004.7 L1445.3,1003.4 L1446.0,1002.0 L1446.7,1000.7 L1447.3,999.3 L1448.0,998.0 L1448.6,996.6 L1449.3,995.3 L1449.9,993.9 L1450.5,992.6 L1451.2,991.2 L1451.8,989.8 L1452.4,988.5 L1453.0,987.1 L1453.7,985.7 L1454.3,984.4 L1454.9,983.0 L1455.5,981.6 L1456.1,980.3 L1456.8,978.9 L1457.4,977.5 L1458.0,976.2 L1458.7,974.8 L1459.3,973.5 L1460.0,972.1 L1460.7,970.8 L1461.4,969.5 L1462.1,968.2 L1462.9,966.9 L1463.7,965.6 L1464.6,964.4 L1465.5,963.3 L1466.6,962.2 L1467.7,961.2 L1469.0,960.4 L1470.4,959.8 L1471.9,959.7 L1473.3,960.0 L1474.7,960.6 L1476.0,961.4 L1477.2,962.3 L1478.3,963.3 L1479.3,964.4 L1480.3,965.5 L1481.3,966.6 L1482.2,967.8 L1483.2,969.0 L1484.0,970.2 L1484.9,971.4 L1485.7,972.7 L1486.6,973.9 L1487.4,975.2 L1488.2,976.5 L1488.9,977.8 L1489.7,979.1 L1490.4,980.4 L1491.1,981.7 L1491.9,983.0 L1492.6,984.3 L1493.2,985.7 L1493.9,987.0 L1494.6,988.4 L1495.2,989.7 L1495.9,991.1 L1496.5,992.4 L1497.2,993.8 L1497.8,995.1 L1498.5,996.5 L1499.1,997.8 L1499.8,999.2 L1500.4,1000.5 L1501.1,1001.9 L1501.7,1003.2 L1502.4,1004.6 L1503.1,1005.9 L1503.8,1007.2 L1504.5,1008.6 L1505.3,1009.9 L1506.0,1011.2 L1506.8,1012.4 L1507.6,1013.7 L1508.4,1015.0 L1509.2,1016.2 L1510.1,1017.4 L1511.0,1018.7 L1511.9,1019.8 L1512.9,1021.0 L1513.8,1022.1 L1514.8,1023.3 L1515.9,1024.4 L1516.9,1025.4 L1518.0,1026.5 L1519.1,1027.5 L1520.2,1028.5 L1521.4,1029.5 L1522.5,1030.4 L1523.7,1031.4 L1524.9,1032.3 L1526.1,1033.2 L1527.3,1034.0 L1528.5,1034.9 L1529.8,1035.7 L1531.0,1036.5 L1532.3,1037.3 L1533.6,1038.1 L1534.9,1038.9 L1536.2,1039.6 L1537.5,1040.3 L1538.8,1041.0 L1540.2,1041.7 L1541.5,1042.4 L1542.9,1043.1 L1544.2,1043.7 L1545.6,1044.3 L1547.0,1044.9 L1548.3,1045.5 L1549.7,1046.1 L1551.1,1046.7 L1552.5,1047.2 L1553.9,1047.7 L1555.3,1048.2 L1556.7,1048.7 L1558.2,1049.2 L1559.6,1049.7 L1561.0,1050.2 L1562.5,1050.6 L1563.9,1051.0 L1565.3,1051.4 L1566.8,1051.8 L1568.2,1052.2 L1569.7,1052.6 L1571.1,1053.0 L1572.6,1053.3 L1574.1,1053.6 L1575.5,1054.0 L1577.0,1054.3 L1578.5,1054.6 L1579.9,1054.9 L1581.4,1055.2 L1582.9,1055.5 L1584.4,1055.7 L1585.8,1056.0 L1587.3,1056.2 L1588.8,1056.5 L1590.3,1056.7 L1591.8,1056.9 L1593.2,1057.2 L1594.7,1057.4 L1596.2,1057.6 L1597.7,1057.8 L1599.2,1058.0 L1600.7,1058.2 L1602.2,1058.4 L1603.7,1058.6 L1605.1,1058.7 L1606.6,1058.9 L1608.1,1059.1 L1609.6,1059.3 L1611.1,1059.4 L1612.6,1059.6 L1614.1,1059.8 L1615.6,1059.9 L1617.1,1060.1 L1618.6,1060.3 L1620.1,1060.4" stroke="#000" stroke-width="8.8"/>
</g>
<rect x="204.75" y="72.4" width="1414.75" height="1084.4" fill="none" stroke="#000" stroke-width="9"/>
<line x1="323.4" y1="1152" x2="323.4" y2="1141" stroke="#000" stroke-width="8"/><line x1="441.2" y1="1152" x2="441.2" y2="1127" stroke="#000" stroke-width="7"/><circle cx="441.2" cy="1127.5" r="2.2" fill="#000"/><line x1="559.1" y1="1152" x2="559.1" y2="1141" stroke="#000" stroke-width="8"/><line x1="676.9" y1="1152" x2="676.9" y2="1127" stroke="#000" stroke-width="7"/><circle cx="676.9" cy="1127.5" r="2.2" fill="#000"/><line x1="794.7" y1="1152" x2="794.7" y2="1141" stroke="#000" stroke-width="8"/><line x1="912.6" y1="1152" x2="912.6" y2="1127" stroke="#000" stroke-width="7"/><circle cx="912.6" cy="1127.5" r="2.2" fill="#000"/><line x1="1030.4" y1="1152" x2="1030.4" y2="1141" stroke="#000" stroke-width="8"/><line x1="1148.2" y1="1152" x2="1148.2" y2="1127" stroke="#000" stroke-width="7"/><circle cx="1148.2" cy="1127.5" r="2.2" fill="#000"/><line x1="1266.0" y1="1152" x2="1266.0" y2="1141" stroke="#000" stroke-width="8"/><line x1="1383.8" y1="1152" x2="1383.8" y2="1127" stroke="#000" stroke-width="7"/><circle cx="1383.8" cy="1127.5" r="2.2" fill="#000"/><line x1="1501.7" y1="1152" x2="1501.7" y2="1141" stroke="#000" stroke-width="8"/>
<g fill="none" stroke-linejoin="round" stroke-linecap="butt">
<path d="M205.1,1026.1 L206.5,1025.5 L207.8,1024.8 L209.2,1024.2 L210.5,1023.5 L211.8,1022.7 L213.1,1022.0 L214.4,1021.2 L215.7,1020.5 L216.9,1019.6 L218.2,1018.8 L219.4,1018.0 L220.6,1017.1 L221.8,1016.2 L223.0,1015.3 L224.2,1014.3 L225.3,1013.3 L226.5,1012.4 L227.6,1011.3 L228.7,1010.3 L229.7,1009.3 L230.8,1008.2 L231.8,1007.1 L232.8,1006.0 L233.8,1004.9 L234.8,1003.7 L235.8,1002.6 L236.7,1001.4 L237.6,1000.2 L238.5,999.0 L239.4,997.8 L240.2,996.6 L241.1,995.3 L241.9,994.1 L242.7,992.8 L243.5,991.5 L244.2,990.2 L245.0,988.9 L245.7,987.6 L246.4,986.3 L247.1,985.0 L247.8,983.6 L248.5,982.3 L249.1,980.9 L249.7,979.6 L250.3,978.2 L250.9,976.8 L251.5,975.4 L252.1,974.0 L252.6,972.6 L253.2,971.3 L253.7,969.8 L254.2,968.4 L254.7,967.0 L255.2,965.6 L255.7,964.2 L256.2,962.8 L256.6,961.3 L257.1,959.9 L257.5,958.5 L258.0,957.0 L258.4,955.6 L258.8,954.1 L259.2,952.7 L259.6,951.3 L260.0,949.8 L260.3,948.4 L260.7,946.9 L261.1,945.4 L261.4,944.0 L261.8,942.5 L262.1,941.1 L262.5,939.6 L262.8,938.1 L263.1,936.7 L263.4,935.2 L263.8,933.7 L264.1,932.3 L264.4,930.8 L264.7,929.3 L265.0,927.9 L265.3,926.4 L265.6,924.9 L265.9,923.5 L266.1,922.0 L266.4,920.5 L266.7,919.0 L267.0,917.6 L267.3,916.1 L267.6,914.6 L267.8,913.1 L268.1,911.7 L268.4,910.2 L268.7,908.7 L269.0,907.2 L269.2,905.8 L269.5,904.3 L269.8,902.8 L270.1,901.3 L270.3,899.9 L270.6,898.4 L270.9,896.9 L271.2,895.4 L271.4,894.0 L271.7,892.5 L272.0,891.0 L272.2,889.5 L272.5,888.1 L272.8,886.6 L273.0,885.1 L273.3,883.6 L273.5,882.2 L273.8,880.7 L274.0,879.2 L274.3,877.7 L274.5,876.2 L274.8,874.8 L275.0,873.3 L275.3,871.8 L275.5,870.3 L275.7,868.8 L276.0,867.3 L276.2,865.9 L276.4,864.4 L276.6,862.9 L276.9,861.4 L277.1,859.9 L277.3,858.4 L277.5,857.0 L277.7,855.5 L277.9,854.0 L278.1,852.5 L278.3,851.0 L278.5,849.5 L278.7,848.0 L278.8,846.5 L279.0,845.1 L279.2,843.6 L279.4,842.1 L279.5,840.6 L279.7,839.1 L279.9,837.6 L280.0,836.1 L280.2,834.6 L280.3,833.1 L280.5,831.6 L280.6,830.1 L280.7,828.6 L280.9,827.1 L281.0,825.7 L281.1,824.2 L281.3,822.7 L281.4,821.2 L281.5,819.7 L281.6,818.2 L281.8,816.7 L281.9,815.2 L282.0,813.7 L282.1,812.2 L282.2,810.7 L282.4,809.2 L282.5,807.7 L282.6,806.2 L282.7,804.7 L282.8,803.2 L282.9,801.7 L283.0,800.2 L283.2,798.7 L283.3,797.2 L283.4,795.7 L283.5,794.2 L283.6,792.7 L283.7,791.3 L283.8,789.8 L283.9,788.3 L284.0,786.8 L284.1,785.3 L284.2,783.8 L284.3,782.3 L284.4,780.8 L284.5,779.3 L284.6,777.8 L284.7,776.3 L284.8,774.8 L284.9,773.3 L285.0,771.8 L285.1,770.3 L285.2,768.8 L285.3,767.3 L285.4,765.8 L285.5,764.3 L285.6,762.8 L285.7,761.3 L285.8,759.8 L285.9,758.3 L286.0,756.8 L286.1,755.3 L286.2,753.8 L286.3,752.3 L286.4,750.8 L286.4,749.3 L286.5,747.8 L286.6,746.3 L286.7,744.8 L286.8,743.3 L286.9,741.8 L287.0,740.3 L287.0,738.8 L287.1,737.4 L287.2,735.9 L287.3,734.4 L287.4,732.9 L287.5,731.4 L287.5,729.9 L287.6,728.4 L287.7,726.9 L287.8,725.4 L287.9,723.9 L287.9,722.4 L288.0,720.9 L288.1,719.4 L288.2,717.9 L288.3,716.4 L288.3,714.9 L288.4,713.4 L288.5,711.9 L288.6,710.4 L288.6,708.9 L288.7,707.4 L288.8,705.9 L288.9,704.4 L288.9,702.9 L289.0,701.4 L289.1,699.9 L289.2,698.4 L289.2,696.9 L289.3,695.4 L289.4,693.9 L289.4,692.4 L289.5,690.9 L289.6,689.4 L289.7,687.9 L289.7,686.4 L289.8,684.9 L289.9,683.4 L289.9,681.9 L290.0,680.4 L290.1,678.9 L290.1,677.4 L290.2,675.9 L290.3,674.4 L290.3,672.9 L290.4,671.4 L290.5,669.9 L290.5,668.4 L290.6,666.9 L290.7,665.4 L290.7,663.9 L290.8,662.4 L290.9,660.9 L290.9,659.4 L291.0,657.9 L291.1,656.4 L291.1,654.9 L291.2,653.4 L291.3,651.9 L291.3,650.4 L291.4,648.9 L291.4,647.4 L291.5,645.9 L291.6,644.4 L291.6,642.9 L291.7,641.4 L291.8,639.9 L291.8,638.4 L291.9,636.9 L291.9,635.4 L292.0,633.9 L292.1,632.4 L292.1,630.9 L292.2,629.5 L292.3,628.0 L292.3,626.5 L292.4,625.0 L292.4,623.5 L292.5,622.0 L292.6,620.5 L292.6,619.0 L292.7,617.5 L292.7,616.0 L292.8,614.5 L292.9,613.0 L292.9,611.5 L293.0,610.0 L293.0,608.5 L293.1,607.0 L293.1,605.5 L293.2,604.0 L293.3,602.5 L293.3,601.0 L293.4,599.5 L293.4,598.0 L293.5,596.5 L293.6,595.0 L293.6,593.5 L293.7,592.0 L293.7,590.5 L293.8,589.0 L293.8,587.5 L293.9,586.0 L294.0,584.5 L294.0,583.0 L294.1,581.5 L294.1,580.0 L294.2,578.5 L294.2,577.0 L294.3,575.5 L294.4,574.0 L294.4,572.5 L294.5,571.0 L294.5,569.5 L294.6,568.0 L294.6,566.5 L294.7,565.0 L294.7,563.5 L294.8,562.0 L294.8,560.5 L294.9,559.0 L295.0,557.5 L295.0,556.0 L295.1,554.5 L295.1,553.0 L295.2,551.5 L295.2,550.0 L295.3,548.5 L295.3,547.0 L295.4,545.5 L295.4,544.0 L295.5,542.5 L295.5,541.0 L295.6,539.5 L295.7,538.0 L295.7,536.5 L295.8,535.0 L295.8,533.5 L295.9,532.0 L295.9,530.5 L296.0,529.0 L296.0,527.5 L296.1,526.0 L296.1,524.5 L296.2,523.0 L296.2,521.5 L296.3,520.0 L296.3,518.5 L296.4,517.0 L296.4,515.5 L296.5,514.0 L296.5,512.5 L296.6,511.0 L296.6,509.5 L296.7,508.0 L296.7,506.5 L296.8,505.0 L296.8,503.5 L296.9,502.0 L296.9,500.5 L297.0,499.0 L297.1,497.5 L297.1,496.0 L297.2,494.5 L297.2,493.0 L297.3,491.5 L297.3,490.0 L297.4,488.5 L297.4,487.0 L297.5,485.5 L297.5,484.0 L297.6,482.5 L297.6,481.0 L297.7,479.5 L297.7,478.0 L297.8,476.5 L297.8,475.0 L297.8,473.5 L297.9,472.0 L297.9,470.5 L298.0,469.0 L298.0,467.5 L298.1,466.0 L298.1,464.5 L298.2,463.0 L298.2,461.5 L298.3,460.0 L298.3,458.5 L298.4,457.0 L298.4,455.5 L298.5,454.0 L298.5,452.5 L298.6,451.0 L298.6,449.5 L298.7,448.0 L298.7,446.5 L298.8,445.0 L298.8,443.5 L298.9,442.0 L298.9,440.5 L299.0,439.0 L299.0,437.5 L299.1,436.0 L299.1,434.5 L299.2,433.0 L299.2,431.5 L299.3,430.0 L299.3,428.5 L299.4,427.0 L299.4,425.5 L299.5,424.0 L299.5,422.5 L299.6,421.0 L299.6,419.5 L299.6,418.0 L299.7,416.5 L299.7,415.0 L299.8,413.5 L299.8,412.0 L299.9,410.5 L299.9,409.0 L300.0,407.5 L300.0,406.0 L300.1,404.5 L300.1,403.0 L300.2,401.5 L300.2,400.0 L300.3,398.6 L300.3,397.1 L300.4,395.6 L300.4,394.1 L300.5,392.6 L300.5,391.1 L300.6,389.6 L300.6,388.1 L300.7,386.6 L300.7,385.1 L300.7,383.6 L300.8,382.1 L300.8,380.6 L300.9,379.1 L300.9,377.6 L301.0,376.1 L301.0,374.6 L301.1,373.1 L301.1,371.6 L301.2,370.1 L301.2,368.6 L301.3,367.1 L301.3,365.6 L301.4,364.1 L301.4,362.6 L301.5,361.1 L301.5,359.6 L301.6,358.1 L301.6,356.6 L301.7,355.1 L301.7,353.6 L301.8,352.1 L301.8,350.6 L301.9,349.1 L301.9,347.6 L302.0,346.1 L302.0,344.6 L302.0,343.1 L302.1,341.6 L302.1,340.1 L302.2,338.6 L302.2,337.1 L302.3,335.6 L302.3,334.1 L302.4,332.6 L302.4,331.1 L302.5,329.6 L302.5,328.1 L302.6,326.6 L302.6,325.1 L302.7,323.6 L302.7,322.1 L302.8,320.6 L302.8,319.1 L302.9,317.6 L302.9,316.1 L303.0,314.6 L303.0,313.1 L303.1,311.6 L303.1,310.1 L303.2,308.6 L303.2,307.1 L303.3,305.6 L303.3,304.1 L303.4,302.6 L303.4,301.1 L303.5,299.6 L303.5,298.1 L303.6,296.6 L303.6,295.1 L303.7,293.6 L303.7,292.1 L303.8,290.6 L303.8,289.1 L303.9,287.6 L303.9,286.1 L304.0,284.6 L304.0,283.1 L304.1,281.6 L304.1,280.1 L304.2,278.6 L304.2,277.1 L304.3,275.6 L304.3,274.1 L304.4,272.6 L304.4,271.1 L304.5,269.6 L304.5,268.1 L304.6,266.6 L304.7,265.1 L304.7,263.6 L304.8,262.1 L304.8,260.6 L304.9,259.1 L304.9,257.6 L305.0,256.1 L305.0,254.6 L305.1,253.1 L305.1,251.6 L305.2,250.1 L305.2,248.6 L305.3,247.1 L305.3,245.6 L305.4,244.1 L305.4,242.6 L305.5,241.1 L305.6,239.6 L305.6,238.1 L305.7,236.6 L305.7,235.1 L305.8,233.6 L305.8,232.1 L305.9,230.6 L305.9,229.1 L306.0,227.6 L306.0,226.1 L306.1,224.6 L306.2,223.1 L306.2,221.6 L306.3,220.1 L306.3,218.6 L306.4,217.1 L306.4,215.6 L306.5,214.1 L306.5,212.6 L306.6,211.1 L306.7,209.6 L306.7,208.1 L306.8,206.6 L306.8,205.1 L306.9,203.6 L306.9,202.1 L307.0,200.6 L307.1,199.1 L307.1,197.6 L307.2,196.1 L307.2,194.6 L307.3,193.1 L307.4,191.6 L307.4,190.1 L307.5,188.6 L307.5,187.1 L307.6,185.6 L307.7,184.1 L307.7,182.6 L307.8,181.1 L307.9,179.6 L307.9,178.1 L308.0,176.6 L308.1,175.1 L308.1,173.6 L308.2,172.1 L308.3,170.6 L308.3,169.2 L308.4,167.7 L308.5,166.2 L308.6,164.7 L308.6,163.2 L308.7,161.7 L308.8,160.2 L308.9,158.7 L308.9,157.2 L309.0,155.7 L309.1,154.2 L309.2,152.7 L309.3,151.2 L309.3,149.7 L309.4,148.2 L309.5,146.7 L309.6,145.2 L309.7,143.7 L309.8,142.2 L309.8,140.7 L309.9,139.2 L310.0,137.7 L310.1,136.2 L310.2,134.7 L310.3,133.2 L310.4,131.7 L310.4,130.2 L310.5,128.7 L310.6,127.2 L310.7,125.7 L310.8,124.2 L310.9,122.7 L311.0,121.2 L311.1,119.7 L311.2,118.2 L311.4,116.7 L311.5,115.2 L311.7,113.7 L311.8,112.3 L312.0,110.8 L312.2,109.3 L312.5,107.8 L312.7,106.3 L313.0,104.8 L313.2,103.4 L313.5,101.9 L314.3,100.8 L315.1,102.0 L315.6,103.4 L315.8,104.9 L316.0,106.4 L316.2,107.9 L316.4,109.4 L316.5,110.9 L316.7,112.3 L316.9,113.8 L317.0,115.3 L317.1,116.8 L317.3,118.3 L317.4,119.8 L317.5,121.3 L317.6,122.8 L317.7,124.3 L317.8,125.8 L317.9,127.3 L318.0,128.8 L318.1,130.3 L318.2,131.8 L318.3,133.3 L318.4,134.8 L318.5,136.3 L318.6,137.8 L318.7,139.3 L318.8,140.8 L318.9,142.3 L319.0,143.8 L319.1,145.3 L319.2,146.8 L319.2,148.3 L319.3,149.8 L319.4,151.3 L319.5,152.8 L319.6,154.3 L319.6,155.8 L319.7,157.3 L319.8,158.7 L319.9,160.2 L320.0,161.7 L320.0,163.2 L320.1,164.7 L320.2,166.2 L320.2,167.7 L320.3,169.2 L320.4,170.7 L320.5,172.2 L320.5,173.7 L320.6,175.2 L320.7,176.7 L320.7,178.2 L320.8,179.7 L320.9,181.2 L320.9,182.7 L321.0,184.2 L321.0,185.7 L321.1,187.2 L321.2,188.7 L321.2,190.2 L321.3,191.7 L321.4,193.2 L321.4,194.7 L321.5,196.2 L321.5,197.7 L321.6,199.2 L321.7,200.7 L321.7,202.2 L321.8,203.7 L321.8,205.2 L321.9,206.7 L321.9,208.2 L322.0,209.7 L322.1,211.2 L322.1,212.7 L322.2,214.2 L322.2,215.7 L322.3,217.2 L322.4,218.7 L322.4,220.2 L322.5,221.7 L322.5,223.2 L322.6,224.7 L322.6,226.2 L322.7,227.7 L322.8,229.2 L322.8,230.7 L322.9,232.2 L322.9,233.7 L323.0,235.2 L323.0,236.7 L323.1,238.2 L323.2,239.7 L323.2,241.2 L323.3,242.7 L323.3,244.2 L323.4,245.7 L323.4,247.2 L323.5,248.7 L323.5,250.2 L323.6,251.7 L323.7,253.2 L323.7,254.7 L323.8,256.2 L323.8,257.7 L323.9,259.2 L323.9,260.7 L324.0,262.2 L324.0,263.7 L324.1,265.2 L324.1,266.7 L324.2,268.2 L324.3,269.7 L324.3,271.2 L324.4,272.7 L324.4,274.2 L324.5,275.7 L324.5,277.2 L324.6,278.7 L324.6,280.2 L324.7,281.7 L324.7,283.2 L324.8,284.7 L324.8,286.2 L324.9,287.7 L325.0,289.2 L325.0,290.7 L325.1,292.2 L325.1,293.7 L325.2,295.2 L325.2,296.7 L325.3,298.2 L325.3,299.7 L325.4,301.2 L325.4,302.7 L325.5,304.2 L325.5,305.7 L325.6,307.2 L325.6,308.7 L325.7,310.2 L325.7,311.7 L325.8,313.2 L325.9,314.7 L325.9,316.2 L326.0,317.7 L326.0,319.2 L326.1,320.7 L326.1,322.2 L326.2,323.7 L326.2,325.2 L326.3,326.7 L326.3,328.2 L326.4,329.7 L326.4,331.2 L326.5,332.7 L326.5,334.2 L326.6,335.7 L326.6,337.1 L326.7,338.6 L326.7,340.1 L326.8,341.6 L326.8,343.1 L326.9,344.6 L326.9,346.1 L327.0,347.6 L327.0,349.1 L327.1,350.6 L327.1,352.1 L327.2,353.6 L327.3,355.1 L327.3,356.6 L327.4,358.1 L327.4,359.6 L327.5,361.1 L327.5,362.6 L327.6,364.1 L327.6,365.6 L327.7,367.1 L327.7,368.6 L327.8,370.1 L327.8,371.6 L327.9,373.1 L327.9,374.6 L328.0,376.1 L328.0,377.6 L328.1,379.1 L328.1,380.6 L328.2,382.1 L328.2,383.6 L328.3,385.1 L328.3,386.6 L328.4,388.1 L328.4,389.6 L328.5,391.1 L328.5,392.6 L328.6,394.1 L328.6,395.6 L328.7,397.1 L328.8,398.6 L328.8,400.1 L328.9,401.6 L328.9,403.1 L329.0,404.6 L329.0,406.1 L329.1,407.6 L329.1,409.1 L329.2,410.6 L329.2,412.1 L329.3,413.6 L329.3,415.1 L329.4,416.6 L329.4,418.1 L329.5,419.6 L329.5,421.1 L329.6,422.6 L329.6,424.1 L329.7,425.6 L329.7,427.1 L329.8,428.6 L329.9,430.1 L329.9,431.6 L330.0,433.1 L330.0,434.6 L330.1,436.1 L330.1,437.6 L330.2,439.1 L330.2,440.6 L330.3,442.1 L330.3,443.6 L330.4,445.1 L330.4,446.6 L330.5,448.1 L330.5,449.6 L330.6,451.1 L330.7,452.6 L330.7,454.1 L330.8,455.6 L330.8,457.1 L330.9,458.6 L330.9,460.1 L331.0,461.6 L331.0,463.1 L331.1,464.6 L331.1,466.1 L331.2,467.6 L331.3,469.1 L331.3,470.6 L331.4,472.1 L331.4,473.6 L331.5,475.1 L331.5,476.6 L331.6,478.1 L331.6,479.6 L331.7,481.1 L331.7,482.6 L331.8,484.1 L331.9,485.6 L331.9,487.1 L332.0,488.6 L332.0,490.1 L332.1,491.6 L332.1,493.1 L332.2,494.6 L332.3,496.1 L332.3,497.6 L332.4,499.1 L332.4,500.6 L332.5,502.1 L332.5,503.6 L332.6,505.1 L332.7,506.6 L332.7,508.1 L332.8,509.6 L332.8,511.1 L332.9,512.6 L332.9,514.1 L333.0,515.6 L333.1,517.1 L333.1,518.6 L333.2,520.1 L333.2,521.6 L333.3,523.1 L333.4,524.6 L333.4,526.1 L333.5,527.6 L333.5,529.1 L333.6,530.6 L333.7,532.1 L333.7,533.6 L333.8,535.1 L333.8,536.6 L333.9,538.1 L334.0,539.6 L334.0,541.1 L334.1,542.6 L334.1,544.1 L334.2,545.6 L334.3,547.0 L334.3,548.5 L334.4,550.0 L334.4,551.5 L334.5,553.0 L334.6,554.5 L334.6,556.0 L334.7,557.5 L334.8,559.0 L334.8,560.5 L334.9,562.0 L334.9,563.5 L335.0,565.0 L335.1,566.5 L335.1,568.0 L335.2,569.5 L335.3,571.0 L335.3,572.5 L335.4,574.0 L335.5,575.5 L335.5,577.0 L335.6,578.5 L335.6,580.0 L335.7,581.5 L335.8,583.0 L335.8,584.5 L335.9,586.0 L336.0,587.5 L336.0,589.0 L336.1,590.5 L336.2,592.0 L336.2,593.5 L336.3,595.0 L336.4,596.5 L336.4,598.0 L336.5,599.5 L336.6,601.0 L336.6,602.5 L336.7,604.0 L336.8,605.5 L336.9,607.0 L336.9,608.5 L337.0,610.0 L337.1,611.5 L337.1,613.0 L337.2,614.5 L337.3,616.0 L337.3,617.5 L337.4,619.0 L337.5,620.5 L337.6,622.0 L337.6,623.5 L337.7,625.0 L337.8,626.5 L337.8,628.0 L337.9,629.5 L338.0,631.0 L338.1,632.5 L338.1,634.0 L338.2,635.5 L338.3,637.0 L338.3,638.5 L338.4,640.0 L338.5,641.5 L338.6,643.0 L338.6,644.5 L338.7,646.0 L338.8,647.5 L338.9,649.0 L338.9,650.5 L339.0,652.0 L339.1,653.5 L339.2,655.0 L339.2,656.5 L339.3,658.0 L339.4,659.5 L339.5,661.0 L339.6,662.4 L339.6,663.9 L339.7,665.4 L339.8,666.9 L339.9,668.4 L339.9,669.9 L340.0,671.4 L340.1,672.9 L340.2,674.4 L340.3,675.9 L340.3,677.4 L340.4,678.9 L340.5,680.4 L340.6,681.9 L340.7,683.4 L340.8,684.9 L340.8,686.4 L340.9,687.9 L341.0,689.4 L341.1,690.9 L341.2,692.4 L341.3,693.9 L341.3,695.4 L341.4,696.9 L341.5,698.4 L341.6,699.9 L341.7,701.4 L341.8,702.9 L341.9,704.4 L341.9,705.9 L342.0,707.4 L342.1,708.9 L342.2,710.4 L342.3,711.9 L342.4,713.4 L342.5,714.9 L342.6,716.4 L342.7,717.9 L342.7,719.4 L342.8,720.9 L342.9,722.4 L343.0,723.9 L343.1,725.4 L343.2,726.9 L343.3,728.4 L343.4,729.9 L343.5,731.3 L343.6,732.8 L343.7,734.3 L343.8,735.8 L343.9,737.3 L344.0,738.8 L344.1,740.3 L344.2,741.8 L344.3,743.3 L344.4,744.8 L344.5,746.3 L344.6,747.8 L344.7,749.3 L344.8,750.8 L344.9,752.3 L345.0,753.8 L345.1,755.3 L345.2,756.8 L345.3,758.3 L345.4,759.8 L345.5,761.3 L345.6,762.8 L345.7,764.3 L345.8,765.8 L345.9,767.3 L346.0,768.8 L346.1,770.3 L346.2,771.8 L346.3,773.3 L346.4,774.8 L346.6,776.3 L346.7,777.7 L346.8,779.2 L346.9,780.7 L347.0,782.2 L347.1,783.7 L347.2,785.2 L347.3,786.7 L347.5,788.2 L347.6,789.7 L347.7,791.2 L347.8,792.7 L347.9,794.2 L348.1,795.7 L348.2,797.2 L348.3,798.7 L348.4,800.2 L348.6,801.7 L348.7,803.2 L348.8,804.7 L349.0,806.2 L349.1,807.7 L349.2,809.2 L349.4,810.6 L349.5,812.1 L349.6,813.6 L349.8,815.1 L349.9,816.6 L350.0,818.1 L350.2,819.6 L350.3,821.1 L350.4,822.6 L350.6,824.1 L350.7,825.6 L350.9,827.1 L351.0,828.6 L351.1,830.1 L351.3,831.6 L351.4,833.1 L351.5,834.5 L351.7,836.0 L351.8,837.5 L352.0,839.0 L352.1,840.5 L352.2,842.0 L352.4,843.5 L352.5,845.0 L352.6,846.5 L352.8,848.0 L352.9,849.5 L353.0,851.0 L353.2,852.5 L353.3,854.0 L353.4,855.5 L353.6,857.0 L353.7,858.5 L353.8,859.9 L354.0,861.4 L354.1,862.9 L354.3,864.4 L354.4,865.9 L354.5,867.4 L354.7,868.9 L354.8,870.4 L355.0,871.9 L355.1,873.4 L355.3,874.9 L355.4,876.4 L355.6,877.9 L355.7,879.4 L355.9,880.9 L356.0,882.3 L356.2,883.8 L356.4,885.3 L356.5,886.8 L356.7,888.3 L356.9,889.8 L357.0,891.3 L357.2,892.8 L357.4,894.3 L357.6,895.8 L357.7,897.3 L357.9,898.7 L358.1,900.2 L358.3,901.7 L358.5,903.2 L358.7,904.7 L358.9,906.2 L359.1,907.7 L359.3,909.1 L359.5,910.6 L359.8,912.1 L360.0,913.6 L360.2,915.1 L360.4,916.6 L360.7,918.0 L360.9,919.5 L361.2,921.0 L361.4,922.5 L361.7,924.0 L361.9,925.4 L362.2,926.9 L362.4,928.4 L362.7,929.9 L363.0,931.4 L363.3,932.8 L363.5,934.3 L363.8,935.8 L364.1,937.2 L364.4,938.7 L364.7,940.2 L365.1,941.6 L365.4,943.1 L365.7,944.6 L366.0,946.0 L366.4,947.5 L366.7,949.0 L367.1,950.4 L367.4,951.9 L367.8,953.3 L368.1,954.8 L368.5,956.2 L368.9,957.7 L369.3,959.1 L369.7,960.6 L370.1,962.0 L370.5,963.5 L370.9,964.9 L371.3,966.4 L371.7,967.8 L372.2,969.2 L372.6,970.7 L373.1,972.1 L373.5,973.5 L374.0,975.0 L374.5,976.4 L374.9,977.8 L375.4,979.2 L375.9,980.6 L376.4,982.1 L376.9,983.5 L377.5,984.9 L378.0,986.3 L378.5,987.7 L379.1,989.1 L379.6,990.5 L380.2,991.9 L380.7,993.3 L381.3,994.6 L381.9,996.0 L382.5,997.4 L383.1,998.8 L383.7,1000.1 L384.3,1001.5 L385.0,1002.9 L385.6,1004.2 L386.2,1005.6 L386.9,1006.9 L387.6,1008.3 L388.2,1009.6 L388.9,1011.0 L389.6,1012.3 L390.3,1013.6 L391.0,1014.9 L391.8,1016.2 L392.5,1017.5 L393.3,1018.8 L394.1,1020.1 L394.9,1021.4 L395.7,1022.6 L396.6,1023.8 L397.5,1025.0 L398.4,1026.2 L399.3,1027.4 L400.3,1028.5 L401.3,1029.7 L402.3,1030.7 L403.4,1031.8 L404.5,1032.8 L405.7,1033.8 L406.9,1034.7 L408.1,1035.5 L409.4,1036.4 L410.7,1037.1 L412.0,1037.7 L413.4,1038.2 L414.9,1038.6 L416.4,1038.9 L417.9,1039.0 L419.4,1038.9 L420.8,1038.7 L422.3,1038.4 L423.8,1038.1 L425.2,1037.7 L426.6,1037.2 L428.1,1036.8 L429.5,1036.4 L431.0,1036.0 L432.5,1035.7 L433.9,1035.5 L435.4,1035.5 L436.9,1035.7 L438.4,1036.1 L439.7,1036.7 L441.0,1037.5 L442.2,1038.4 L443.4,1039.3 L444.5,1040.3 L445.6,1041.3 L446.7,1042.3 L447.8,1043.4 L448.9,1044.4 L450.1,1045.3 L451.2,1046.3 L452.4,1047.2 L453.6,1048.1 L454.8,1049.1 L456.0,1049.9 L457.2,1050.8 L458.5,1051.6 L459.7,1052.5 L461.0,1053.3 L462.3,1054.1 L463.6,1054.8 L464.9,1055.6 L466.2,1056.3 L467.5,1057.0 L468.8,1057.7 L470.2,1058.4 L471.5,1059.0 L472.9,1059.6 L474.3,1060.2 L475.6,1060.8 L477.0,1061.4 L478.4,1062.0 L479.8,1062.5 L481.2,1063.0 L482.6,1063.5 L484.1,1064.0 L485.5,1064.5 L486.9,1064.9 L488.4,1065.3 L489.8,1065.8 L491.2,1066.2 L492.7,1066.5 L494.1,1066.9 L495.6,1067.3 L497.1,1067.6 L498.5,1067.9 L500.0,1068.2 L501.5,1068.5 L502.9,1068.8 L504.4,1069.1 L505.9,1069.3 L507.4,1069.6 L508.9,1069.8 L510.3,1070.0 L511.8,1070.2 L513.3,1070.4 L514.8,1070.6 L516.3,1070.8 L517.8,1070.9 L519.3,1071.1 L520.8,1071.2 L522.3,1071.3 L523.8,1071.5 L525.3,1071.6 L526.8,1071.7 L528.3,1071.8 L529.8,1071.9 L531.3,1071.9 L532.8,1072.0 L534.3,1072.1 L535.8,1072.1 L537.3,1072.2 L538.8,1072.2 L540.2,1072.3 L541.7,1072.3 L543.2,1072.3 L544.8,1072.4 L546.3,1072.4 L547.8,1072.4 L549.3,1072.4 L550.8,1072.4 L552.3,1072.4 L553.8,1072.4 L555.3,1072.4 L556.8,1072.4 L558.3,1072.3 L559.8,1072.3 L561.3,1072.3 L562.8,1072.3 L564.3,1072.2 L565.8,1072.2 L567.3,1072.1 L568.8,1072.1 L570.3,1072.0 L571.7,1072.0 L573.2,1071.9 L574.7,1071.9 L576.2,1071.8 L577.7,1071.7 L579.2,1071.6 L580.7,1071.6 L582.2,1071.5 L583.7,1071.4 L585.2,1071.3 L586.7,1071.2 L588.2,1071.2 L589.7,1071.1 L591.2,1071.0 L592.7,1070.9 L594.2,1070.8 L595.7,1070.7 L597.2,1070.6 L598.7,1070.5 L600.2,1070.4 L601.7,1070.3 L603.2,1070.1 L604.7,1070.0 L606.2,1069.9 L607.7,1069.8 L609.2,1069.7 L610.7,1069.6 L612.2,1069.5 L613.7,1069.3 L615.2,1069.2 L616.7,1069.1 L618.2,1069.0 L619.7,1068.9 L621.1,1068.7 L622.6,1068.6 L624.1,1068.5 L625.6,1068.4 L627.1,1068.2 L628.6,1068.1 L630.1,1068.0 L631.6,1067.9 L633.1,1067.7 L634.6,1067.6 L636.1,1067.5 L637.6,1067.4 L639.1,1067.3 L640.6,1067.1 L642.1,1067.0 L643.6,1066.9 L645.1,1066.8 L646.6,1066.7 L648.1,1066.6 L649.6,1066.4 L651.1,1066.3 L652.6,1066.2 L654.0,1066.1 L655.5,1066.0 L657.0,1065.9 L658.5,1065.8 L660.0,1065.7 L661.5,1065.6 L663.0,1065.5 L664.5,1065.4 L666.0,1065.3 L667.5,1065.2 L669.0,1065.1 L670.5,1065.0 L672.0,1064.9 L673.5,1064.8 L675.0,1064.7 L676.5,1064.7 L678.0,1064.6 L679.5,1064.5 L681.0,1064.4 L682.5,1064.3 L684.0,1064.2 L685.5,1064.2 L687.0,1064.1 L688.5,1064.0 L690.0,1063.9 L691.5,1063.8 L693.0,1063.7 L694.5,1063.7 L696.0,1063.6 L697.5,1063.5 L699.0,1063.4 L700.5,1063.3 L702.0,1063.2 L703.5,1063.1 L705.0,1063.1 L706.5,1063.0 L708.0,1062.9 L709.5,1062.8 L711.0,1062.7 L712.5,1062.6 L714.0,1062.5 L715.5,1062.4 L716.9,1062.3 L718.4,1062.2 L719.9,1062.1 L721.4,1062.0 L722.9,1061.9 L724.4,1061.8 L725.9,1061.7 L727.4,1061.6 L728.9,1061.5 L730.4,1061.4 L731.9,1061.3 L733.4,1061.2 L734.9,1061.0 L736.4,1060.9 L737.9,1060.8 L739.4,1060.7 L740.9,1060.5 L742.4,1060.4 L743.9,1060.3 L745.4,1060.1 L746.9,1060.0 L748.4,1059.8 L749.8,1059.7 L751.3,1059.5 L752.8,1059.4 L754.3,1059.2 L755.8,1059.1 L757.3,1058.9 L758.8,1058.7 L760.3,1058.5 L761.8,1058.4 L763.3,1058.2 L764.8,1058.0 L766.2,1057.8 L767.7,1057.6 L769.2,1057.4 L770.7,1057.2 L772.2,1057.0 L773.7,1056.8 L775.2,1056.5 L776.6,1056.3 L778.1,1056.1 L779.6,1055.9 L781.1,1055.6 L782.6,1055.4 L784.0,1055.1 L785.5,1054.9 L787.0,1054.6 L788.5,1054.4 L790.0,1054.1 L791.4,1053.8 L792.9,1053.5 L794.4,1053.2 L795.8,1052.9 L797.3,1052.6 L798.8,1052.3 L800.2,1052.0 L801.7,1051.6 L803.2,1051.3 L804.6,1050.9 L806.1,1050.5 L807.5,1050.2 L809.0,1049.8 L810.4,1049.4 L811.9,1049.0 L813.3,1048.5 L814.7,1048.1 L816.2,1047.6 L817.6,1047.2 L819.0,1046.7 L820.4,1046.2 L821.8,1045.7 L823.2,1045.1 L824.6,1044.6 L826.0,1044.0 L827.4,1043.5 L828.8,1042.9 L830.2,1042.3 L831.5,1041.6 L832.9,1041.0 L834.2,1040.3 L835.6,1039.7 L836.9,1039.0 L838.2,1038.2 L839.5,1037.5 L840.8,1036.7 L842.1,1036.0 L843.4,1035.2 L844.6,1034.3 L845.9,1033.5 L847.1,1032.6 L848.3,1031.7 L849.5,1030.8 L850.7,1029.9 L851.8,1029.0 L853.0,1028.0 L854.1,1027.0 L855.2,1026.0 L856.3,1025.0 L857.4,1023.9 L858.4,1022.8 L859.4,1021.7 L860.4,1020.6 L861.4,1019.5 L862.4,1018.3 L863.3,1017.2 L864.3,1016.0 L865.2,1014.8 L866.1,1013.6 L867.0,1012.4 L867.8,1011.2 L868.7,1010.0 L869.6,1008.7 L870.5,1007.5 L871.3,1006.3 L872.2,1005.1 L873.0,1003.8 L873.9,1002.6 L874.8,1001.4 L875.7,1000.2 L876.6,999.0 L877.5,997.8 L878.4,996.6 L879.4,995.4 L880.3,994.3 L881.3,993.2 L882.3,992.0 L883.3,990.9 L884.4,989.9 L885.4,988.8 L886.5,987.8 L887.7,986.8 L888.8,985.9 L890.0,985.0 L891.2,984.1 L892.5,983.3 L893.8,982.5 L895.1,981.8 L896.5,981.2 L897.9,980.7 L899.4,980.4 L900.9,980.3 L902.4,980.4 L903.8,980.8 L905.3,981.3 L906.6,981.9 L907.9,982.7 L909.1,983.6 L910.3,984.5 L911.4,985.5 L912.5,986.6 L913.5,987.7 L914.5,988.8 L915.4,989.9 L916.4,991.1 L917.3,992.3 L918.2,993.5 L919.1,994.7 L919.9,996.0 L920.8,997.2 L921.6,998.4 L922.4,999.7 L923.3,1000.9 L924.1,1002.2 L924.9,1003.5 L925.7,1004.7 L926.5,1006.0 L927.3,1007.2 L928.2,1008.5 L929.0,1009.7 L929.8,1011.0 L930.7,1012.2 L931.6,1013.4 L932.4,1014.7 L933.4,1015.8 L934.3,1017.0 L935.3,1018.2 L936.2,1019.3 L937.3,1020.4 L938.3,1021.5 L939.4,1022.5 L940.5,1023.5 L941.6,1024.5 L942.8,1025.5 L944.0,1026.4 L945.2,1027.3 L946.4,1028.1 L947.7,1029.0 L948.9,1029.8 L950.2,1030.5 L951.5,1031.3 L952.8,1032.0 L954.1,1032.7 L955.5,1033.4 L956.8,1034.1 L958.2,1034.8 L959.5,1035.4 L960.9,1036.0 L962.3,1036.6 L963.7,1037.1 L965.1,1037.7 L966.5,1038.2 L967.9,1038.7 L969.3,1039.2 L970.7,1039.7 L972.2,1040.1 L973.6,1040.6 L975.0,1041.0 L976.5,1041.4 L977.9,1041.7 L979.4,1042.1 L980.9,1042.4 L982.3,1042.8 L983.8,1043.1 L985.3,1043.4 L986.7,1043.6 L988.2,1043.9 L989.7,1044.1 L991.2,1044.4 L992.7,1044.6 L994.2,1044.8 L995.6,1044.9 L997.1,1045.1 L998.6,1045.3 L1000.1,1045.4 L1001.6,1045.6 L1003.1,1045.7 L1004.6,1045.8 L1006.1,1045.9 L1007.6,1046.0 L1009.1,1046.0 L1010.6,1046.1 L1012.1,1046.2 L1013.6,1046.2 L1015.1,1046.3 L1016.6,1046.3 L1018.1,1046.3 L1019.6,1046.3 L1021.1,1046.3 L1022.6,1046.4 L1024.1,1046.4 L1025.6,1046.3 L1027.1,1046.3 L1028.6,1046.3 L1030.1,1046.3 L1031.6,1046.3 L1033.1,1046.2 L1034.6,1046.2 L1036.1,1046.2 L1037.6,1046.2 L1039.1,1046.1 L1040.6,1046.1 L1042.1,1046.0 L1043.6,1046.0 L1045.1,1046.0 L1046.6,1045.9 L1048.1,1045.9 L1049.6,1045.8 L1051.1,1045.8 L1052.6,1045.8 L1054.1,1045.7 L1055.6,1045.7 L1057.1,1045.6 L1058.6,1045.6 L1060.1,1045.5 L1061.6,1045.5 L1063.1,1045.4 L1064.6,1045.4 L1066.1,1045.3 L1067.6,1045.2 L1069.1,1045.1 L1070.6,1045.0 L1072.1,1044.9 L1073.6,1044.8 L1075.1,1044.7 L1076.6,1044.6 L1078.1,1044.4 L1079.5,1044.3 L1081.0,1044.1 L1082.5,1043.9 L1084.0,1043.7 L1085.5,1043.5 L1087.0,1043.2 L1088.5,1043.0 L1089.9,1042.7 L1091.4,1042.4 L1092.9,1042.1 L1094.3,1041.7 L1095.8,1041.4 L1097.2,1041.0 L1098.7,1040.6 L1100.1,1040.2 L1101.5,1039.7 L1103.0,1039.2 L1104.4,1038.7 L1105.8,1038.2 L1107.2,1037.7 L1108.6,1037.1 L1110.0,1036.5 L1111.3,1035.9 L1112.7,1035.2 L1114.0,1034.6 L1115.4,1033.9 L1116.7,1033.2 L1118.0,1032.4 L1119.3,1031.7 L1120.6,1030.9 L1121.9,1030.1 L1123.1,1029.3 L1124.4,1028.5 L1125.6,1027.7 L1126.8,1026.8 L1128.1,1025.9 L1129.3,1025.0 L1130.4,1024.1 L1131.6,1023.2 L1132.8,1022.2 L1133.9,1021.3 L1135.1,1020.3 L1136.2,1019.3 L1137.3,1018.3 L1138.4,1017.2 L1139.4,1016.2 L1140.5,1015.1 L1141.5,1014.0 L1142.5,1012.9 L1143.5,1011.8 L1144.5,1010.6 L1145.5,1009.5 L1146.4,1008.3 L1147.4,1007.2 L1148.3,1006.0 L1149.2,1004.8 L1150.2,1003.6 L1151.1,1002.5 L1152.0,1001.3 L1152.9,1000.1 L1153.8,998.9 L1154.8,997.7 L1155.7,996.5 L1156.6,995.4 L1157.6,994.2 L1158.5,993.0 L1159.5,991.9 L1160.5,990.8 L1161.5,989.6 L1162.5,988.5 L1163.5,987.5 L1164.6,986.4 L1165.7,985.4 L1166.8,984.4 L1168.0,983.5 L1169.3,982.6 L1170.6,981.9 L1171.9,981.3 L1173.3,980.8 L1174.8,980.4 L1176.3,980.2 L1177.8,980.2 L1179.3,980.3 L1180.7,980.6 L1182.2,981.0 L1183.6,981.5 L1185.0,982.1 L1186.3,982.8 L1187.6,983.5 L1188.9,984.3 L1190.1,985.2 L1191.3,986.1 L1192.4,987.0 L1193.6,988.0 L1194.7,989.0 L1195.8,990.0 L1196.9,991.0 L1198.0,992.1 L1199.1,993.1 L1200.1,994.2 L1201.2,995.3 L1202.2,996.3 L1203.3,997.4 L1204.3,998.5 L1205.3,999.6 L1206.4,1000.7 L1207.4,1001.8 L1208.5,1002.8 L1209.5,1003.9 L1210.6,1005.0 L1211.6,1006.1 L1212.7,1007.1 L1213.7,1008.2 L1214.8,1009.2 L1215.9,1010.3 L1216.9,1011.3 L1218.0,1012.4 L1219.1,1013.4 L1220.2,1014.4 L1221.3,1015.5 L1222.4,1016.5 L1223.5,1017.5 L1224.6,1018.5 L1225.8,1019.5 L1226.9,1020.4 L1228.1,1021.4 L1229.2,1022.3 L1230.4,1023.3 L1231.6,1024.2 L1232.8,1025.1 L1233.9,1026.0 L1235.2,1026.9 L1236.4,1027.8 L1237.6,1028.7 L1238.8,1029.5 L1240.1,1030.3 L1241.4,1031.1 L1242.6,1031.9 L1243.9,1032.7 L1245.2,1033.5 L1246.5,1034.2 L1247.9,1034.9 L1249.2,1035.6 L1250.5,1036.3 L1251.9,1036.9 L1253.3,1037.5 L1254.6,1038.1 L1256.0,1038.7 L1257.4,1039.2 L1258.8,1039.8 L1260.2,1040.3 L1261.7,1040.7 L1263.1,1041.2 L1264.5,1041.6 L1266.0,1042.1 L1267.4,1042.5 L1268.9,1042.9 L1270.3,1043.2 L1271.8,1043.6 L1273.2,1043.9 L1274.7,1044.2 L1276.2,1044.5 L1277.6,1044.8 L1279.1,1045.1 L1280.6,1045.3 L1282.1,1045.6 L1283.6,1045.8 L1285.0,1046.0 L1286.5,1046.2 L1288.0,1046.4 L1289.5,1046.6 L1291.0,1046.7 L1292.5,1046.9 L1294.0,1047.0 L1295.5,1047.1 L1297.0,1047.3 L1298.5,1047.4 L1300.0,1047.5 L1301.5,1047.6 L1303.0,1047.7 L1304.5,1047.7 L1306.0,1047.8 L1307.5,1047.9 L1309.0,1047.9 L1310.5,1048.0 L1312.0,1048.0 L1313.5,1048.1 L1315.0,1048.1 L1316.5,1048.1 L1318.0,1048.1 L1319.5,1048.2 L1321.0,1048.2 L1322.5,1048.2 L1324.0,1048.2 L1325.5,1048.2 L1327.0,1048.2 L1328.5,1048.2 L1330.0,1048.2 L1331.5,1048.1 L1333.0,1048.1 L1334.5,1048.1 L1336.0,1048.0 L1337.5,1048.0 L1339.0,1047.9 L1340.5,1047.8 L1342.0,1047.8 L1343.5,1047.7 L1345.0,1047.6 L1346.4,1047.5 L1347.9,1047.4 L1349.4,1047.3 L1350.9,1047.2 L1352.4,1047.0 L1353.9,1046.9 L1355.4,1046.7 L1356.9,1046.5 L1358.4,1046.4 L1359.9,1046.2 L1361.4,1046.0 L1362.9,1045.8 L1364.3,1045.6 L1365.8,1045.3 L1367.3,1045.1 L1368.8,1044.8 L1370.3,1044.5 L1371.7,1044.3 L1373.2,1044.0 L1374.7,1043.7 L1376.1,1043.3 L1377.6,1043.0 L1379.1,1042.7 L1380.5,1042.3 L1382.0,1041.9 L1383.4,1041.5 L1384.9,1041.1 L1386.3,1040.7 L1387.7,1040.3 L1389.2,1039.8 L1390.6,1039.4 L1392.0,1038.9 L1393.4,1038.4 L1394.8,1037.8 L1396.2,1037.3 L1397.6,1036.7 L1399.0,1036.1 L1400.3,1035.5 L1401.7,1034.8 L1403.0,1034.1 L1404.3,1033.4 L1405.6,1032.6 L1406.9,1031.8 L1408.2,1031.0 L1409.4,1030.2 L1410.6,1029.3 L1411.8,1028.3 L1412.9,1027.4 L1414.1,1026.4 L1415.2,1025.4 L1416.2,1024.3 L1417.3,1023.2 L1418.3,1022.1 L1419.3,1021.0 L1420.3,1019.9 L1421.3,1018.8 L1422.2,1017.6 L1423.2,1016.4 L1424.1,1015.3 L1425.0,1014.1 L1426.0,1012.9 L1426.9,1011.8 L1427.9,1010.6 L1428.8,1009.4 L1429.8,1008.3 L1430.7,1007.1 L1431.7,1006.0 L1432.6,1004.8 L1433.6,1003.6 L1434.5,1002.5 L1435.5,1001.3 L1436.4,1000.2 L1437.4,999.0 L1438.3,997.8 L1439.3,996.7 L1440.2,995.5 L1441.1,994.3 L1442.1,993.2 L1443.0,992.0 L1443.9,990.8 L1444.9,989.6 L1445.8,988.4 L1446.7,987.2 L1447.6,986.1 L1448.5,984.9 L1449.4,983.7 L1450.3,982.5 L1451.2,981.2 L1452.1,980.0 L1453.0,978.8 L1453.9,977.6 L1454.7,976.4 L1455.7,975.2 L1456.6,974.0 L1457.5,972.9 L1458.5,971.7 L1459.5,970.6 L1460.6,969.6 L1461.7,968.6 L1462.9,967.7 L1464.2,966.9 L1465.6,966.3 L1467.0,965.9 L1468.5,965.8 L1470.0,966.0 L1471.5,966.3 L1472.9,966.9 L1474.2,967.6 L1475.5,968.4 L1476.7,969.2 L1477.9,970.2 L1479.0,971.1 L1480.1,972.1 L1481.2,973.2 L1482.2,974.3 L1483.3,975.4 L1484.2,976.5 L1485.2,977.6 L1486.2,978.8 L1487.1,980.0 L1488.0,981.2 L1488.9,982.4 L1489.8,983.6 L1490.7,984.8 L1491.5,986.0 L1492.3,987.3 L1493.2,988.5 L1494.0,989.8 L1494.8,991.1 L1495.6,992.4 L1496.4,993.6 L1497.1,994.9 L1497.9,996.2 L1498.7,997.5 L1499.5,998.8 L1500.3,1000.0 L1501.1,1001.3 L1501.9,1002.6 L1502.7,1003.8 L1503.5,1005.1 L1504.3,1006.3 L1505.2,1007.6 L1506.1,1008.8 L1507.0,1010.0 L1507.9,1011.1 L1508.9,1012.3 L1509.9,1013.4 L1510.9,1014.6 L1511.9,1015.7 L1512.9,1016.7 L1514.0,1017.8 L1515.0,1018.9 L1516.1,1019.9 L1517.2,1020.9 L1518.4,1021.9 L1519.5,1022.9 L1520.7,1023.8 L1521.8,1024.8 L1523.0,1025.7 L1524.2,1026.6 L1525.4,1027.5 L1526.6,1028.4 L1527.9,1029.2 L1529.1,1030.1 L1530.4,1030.9 L1531.6,1031.7 L1532.9,1032.5 L1534.2,1033.3 L1535.5,1034.0 L1536.8,1034.8 L1538.1,1035.5 L1539.4,1036.2 L1540.7,1036.9 L1542.0,1037.6 L1543.4,1038.3 L1544.7,1039.0 L1546.1,1039.6 L1547.4,1040.3 L1548.8,1040.9 L1550.2,1041.5 L1551.6,1042.1 L1552.9,1042.6 L1554.3,1043.2 L1555.7,1043.8 L1557.1,1044.3 L1558.5,1044.8 L1559.9,1045.3 L1561.4,1045.8 L1562.8,1046.3 L1564.2,1046.8 L1565.6,1047.3 L1567.1,1047.7 L1568.5,1048.1 L1569.9,1048.6 L1571.4,1049.0 L1572.8,1049.4 L1574.3,1049.8 L1575.7,1050.2 L1577.2,1050.5 L1578.6,1050.9 L1580.1,1051.3 L1581.6,1051.6 L1583.0,1051.9 L1584.5,1052.3 L1585.9,1052.6 L1587.4,1052.9 L1588.9,1053.2 L1590.4,1053.5 L1591.8,1053.8 L1593.3,1054.0 L1594.8,1054.3 L1596.3,1054.6 L1597.7,1054.8 L1599.2,1055.1 L1600.7,1055.3 L1602.2,1055.6 L1603.7,1055.8 L1605.1,1056.0 L1606.6,1056.3 L1608.1,1056.5 L1609.6,1056.7 L1611.1,1056.9 L1612.6,1057.1 L1614.0,1057.3 L1615.5,1057.5 L1617.0,1057.7 L1618.5,1057.9 L1620.0,1058.1" stroke="#f00" stroke-width="8.8"/>
</g>
<rect x="518" y="133.3" width="520.5" height="401.1" fill="#fff" stroke="none"/>
<g fill="none" stroke-linejoin="round" stroke-linecap="butt">
<path d="M518.0,482.0 L519.5,481.6 L520.9,481.3 L522.4,480.9 L523.8,480.5 L525.3,480.1 L526.7,479.8 L528.2,479.4 L529.6,479.0 L531.1,478.6 L532.5,478.3 L534.0,477.9 L535.4,477.5 L536.9,477.1 L538.3,476.8 L539.8,476.4 L541.3,476.0 L542.7,475.6 L544.2,475.2 L545.6,474.9 L547.1,474.5 L548.5,474.1 L550.0,473.7 L551.4,473.3 L552.8,472.9 L554.3,472.5 L555.7,472.1 L557.2,471.7 L558.6,471.3 L560.1,470.8 L561.5,470.4 L562.9,470.0 L564.4,469.6 L565.8,469.1 L567.3,468.7 L568.7,468.2 L570.1,467.8 L571.5,467.3 L573.0,466.8 L574.4,466.3 L575.8,465.8 L577.2,465.3 L578.6,464.8 L580.0,464.3 L581.4,463.7 L582.8,463.2 L584.2,462.6 L585.6,462.1 L587.0,461.5 L588.4,460.9 L589.7,460.3 L591.1,459.6 L592.4,459.0 L593.8,458.3 L595.1,457.6 L596.5,456.9 L597.8,456.2 L599.1,455.5 L600.4,454.8 L601.7,454.0 L603.0,453.2 L604.2,452.4 L605.5,451.6 L606.7,450.8 L608.0,449.9 L609.2,449.0 L610.4,448.2 L611.6,447.3 L612.8,446.3 L614.0,445.4 L615.1,444.4 L616.3,443.5 L617.4,442.5 L618.5,441.5 L619.6,440.5 L620.7,439.4 L621.8,438.4 L622.9,437.3 L623.9,436.3 L625.0,435.2 L626.0,434.1 L627.0,433.0 L628.0,431.8 L629.0,430.7 L629.9,429.6 L630.9,428.4 L631.8,427.2 L632.8,426.1 L633.7,424.9 L634.6,423.7 L635.5,422.5 L636.3,421.3 L637.2,420.0 L638.1,418.8 L638.9,417.6 L639.8,416.3 L640.6,415.1 L641.4,413.8 L642.2,412.5 L643.0,411.3 L643.8,410.0 L644.6,408.7 L645.3,407.4 L646.1,406.1 L646.9,404.8 L647.6,403.5 L648.3,402.2 L649.1,400.9 L649.8,399.6 L650.5,398.3 L651.2,396.9 L651.9,395.6 L652.6,394.3 L653.3,392.9 L653.9,391.6 L654.6,390.2 L655.3,388.9 L655.9,387.5 L656.6,386.2 L657.2,384.8 L657.8,383.5 L658.5,382.1 L659.1,380.8 L659.7,379.4 L660.3,378.0 L661.0,376.7 L661.6,375.3 L662.2,373.9 L662.8,372.5 L663.3,371.1 L663.9,369.8 L664.5,368.4 L665.1,367.0 L665.7,365.6 L666.2,364.2 L666.8,362.8 L667.4,361.4 L667.9,360.0 L668.5,358.7 L669.0,357.3 L669.6,355.9 L670.1,354.5 L670.7,353.1 L671.2,351.7 L671.7,350.3 L672.3,348.9 L672.8,347.4 L673.3,346.0 L673.8,344.6 L674.4,343.2 L674.9,341.8 L675.4,340.4 L675.9,339.0 L676.4,337.6 L676.9,336.2 L677.4,334.8 L677.9,333.3 L678.4,331.9 L678.9,330.5 L679.4,329.1 L679.9,327.7 L680.4,326.3 L680.9,324.8 L681.4,323.4 L681.9,322.0 L682.3,320.6 L682.8,319.2 L683.3,317.7 L683.8,316.3 L684.3,314.9 L684.7,313.5 L685.2,312.0 L685.7,310.6 L686.2,309.2 L686.6,307.8 L687.1,306.3 L687.6,304.9 L688.0,303.5 L688.5,302.1 L689.0,300.6 L689.4,299.2 L689.9,297.8 L690.4,296.4 L690.8,294.9 L691.3,293.5 L691.7,292.1 L692.2,290.6 L692.7,289.2 L693.1,287.8 L693.6,286.4 L694.0,284.9 L694.5,283.5 L694.9,282.1 L695.4,280.6 L695.9,279.2 L696.3,277.8 L696.8,276.3 L697.2,274.9 L697.7,273.5 L698.1,272.1 L698.6,270.6 L699.0,269.2 L699.5,267.8 L699.9,266.3 L700.4,264.9 L700.8,263.5 L701.3,262.0 L701.8,260.6 L702.2,259.2 L702.7,257.8 L703.1,256.3 L703.6,254.9 L704.0,253.5 L704.5,252.0 L705.0,250.6 L705.4,249.2 L705.9,247.8 L706.4,246.3 L706.8,244.9 L707.3,243.5 L707.7,242.0 L708.2,240.6 L708.7,239.2 L709.2,237.8 L709.6,236.3 L710.1,234.9 L710.6,233.5 L711.1,232.1 L711.5,230.6 L712.0,229.2 L712.5,227.8 L713.0,226.4 L713.5,225.0 L714.0,223.6 L714.5,222.1 L715.0,220.7 L715.5,219.3 L716.0,217.9 L716.5,216.5 L717.0,215.1 L717.5,213.7 L718.0,212.3 L718.6,210.8 L719.1,209.4 L719.6,208.0 L720.2,206.6 L720.7,205.2 L721.3,203.8 L721.8,202.5 L722.4,201.1 L723.0,199.7 L723.5,198.3 L724.1,196.9 L724.7,195.5 L725.3,194.2 L726.0,192.8 L726.6,191.4 L727.2,190.1 L727.9,188.7 L728.5,187.4 L729.2,186.0 L729.9,184.7 L730.6,183.4 L731.4,182.1 L732.1,180.8 L732.9,179.5 L733.7,178.2 L734.5,177.0 L735.4,175.7 L736.3,174.5 L737.2,173.4 L738.2,172.2 L739.2,171.2 L740.3,170.1 L741.5,169.2 L742.8,168.4 L744.1,167.7 L745.5,167.1 L747.0,166.8 L748.5,166.8 L749.9,167.0 L751.4,167.4 L752.7,168.0 L754.0,168.8 L755.2,169.7 L756.3,170.7 L757.4,171.8 L758.4,172.9 L759.3,174.1 L760.2,175.3 L761.1,176.5 L761.9,177.8 L762.7,179.0 L763.5,180.3 L764.2,181.6 L765.0,182.9 L765.7,184.3 L766.4,185.6 L767.0,186.9 L767.7,188.3 L768.3,189.6 L769.0,191.0 L769.6,192.4 L770.2,193.7 L770.8,195.1 L771.4,196.5 L772.0,197.9 L772.6,199.2 L773.2,200.6 L773.7,202.0 L774.3,203.4 L774.9,204.8 L775.4,206.2 L776.0,207.6 L776.5,209.0 L777.0,210.4 L777.6,211.8 L778.1,213.2 L778.6,214.6 L779.1,216.0 L779.7,217.4 L780.2,218.8 L780.7,220.3 L781.2,221.7 L781.7,223.1 L782.2,224.5 L782.7,225.9 L783.2,227.3 L783.7,228.7 L784.2,230.2 L784.7,231.6 L785.2,233.0 L785.7,234.4 L786.2,235.8 L786.7,237.2 L787.1,238.7 L787.6,240.1 L788.1,241.5 L788.6,242.9 L789.1,244.3 L789.6,245.8 L790.1,247.2 L790.5,248.6 L791.0,250.0 L791.5,251.4 L792.0,252.9 L792.5,254.3 L793.0,255.7 L793.4,257.1 L793.9,258.5 L794.4,260.0 L794.9,261.4 L795.4,262.8 L795.9,264.2 L796.3,265.7 L796.8,267.1 L797.3,268.5 L797.8,269.9 L798.3,271.3 L798.8,272.7 L799.3,274.2 L799.8,275.6 L800.2,277.0 L800.7,278.4 L801.2,279.8 L801.7,281.3 L802.2,282.7 L802.7,284.1 L803.2,285.5 L803.7,286.9 L804.2,288.3 L804.7,289.7 L805.2,291.2 L805.7,292.6 L806.2,294.0 L806.8,295.4 L807.3,296.8 L807.8,298.2 L808.3,299.6 L808.8,301.0 L809.3,302.4 L809.9,303.9 L810.4,305.3 L810.9,306.7 L811.4,308.1 L812.0,309.5 L812.5,310.9 L813.0,312.3 L813.6,313.7 L814.1,315.1 L814.6,316.5 L815.2,317.9 L815.7,319.3 L816.3,320.7 L816.8,322.1 L817.4,323.5 L818.0,324.9 L818.5,326.2 L819.1,327.6 L819.7,329.0 L820.2,330.4 L820.8,331.8 L821.4,333.2 L822.0,334.6 L822.6,335.9 L823.1,337.3 L823.7,338.7 L824.3,340.1 L824.9,341.5 L825.5,342.8 L826.1,344.2 L826.8,345.6 L827.4,346.9 L828.0,348.3 L828.6,349.7 L829.3,351.0 L829.9,352.4 L830.5,353.7 L831.2,355.1 L831.8,356.5 L832.5,357.8 L833.1,359.2 L833.8,360.5 L834.5,361.8 L835.2,363.2 L835.8,364.5 L836.5,365.9 L837.2,367.2 L837.9,368.5 L838.6,369.8 L839.3,371.2 L840.0,372.5 L840.8,373.8 L841.5,375.1 L842.2,376.4 L843.0,377.7 L843.7,379.0 L844.5,380.3 L845.2,381.6 L846.0,382.9 L846.8,384.2 L847.6,385.5 L848.3,386.7 L849.1,388.0 L850.0,389.3 L850.8,390.5 L851.6,391.8 L852.4,393.1 L853.3,394.3 L854.1,395.5 L855.0,396.8 L855.8,398.0 L856.7,399.2 L857.6,400.4 L858.5,401.6 L859.4,402.9 L860.3,404.0 L861.2,405.2 L862.1,406.4 L863.0,407.6 L864.0,408.8 L864.9,409.9 L865.9,411.1 L866.9,412.2 L867.9,413.3 L868.8,414.5 L869.9,415.6 L870.9,416.7 L871.9,417.8 L872.9,418.9 L874.0,420.0 L875.0,421.0 L876.1,422.1 L877.2,423.1 L878.2,424.2 L879.3,425.2 L880.4,426.2 L881.5,427.2 L882.7,428.2 L883.8,429.2 L884.9,430.2 L886.1,431.1 L887.3,432.1 L888.4,433.0 L889.6,434.0 L890.8,434.9 L892.0,435.8 L893.2,436.7 L894.4,437.5 L895.7,438.4 L896.9,439.3 L898.1,440.1 L899.4,440.9 L900.6,441.8 L901.9,442.6 L903.2,443.4 L904.5,444.1 L905.7,444.9 L907.0,445.7 L908.3,446.4 L909.6,447.1 L911.0,447.9 L912.3,448.6 L913.6,449.3 L914.9,450.0 L916.3,450.7 L917.6,451.3 L919.0,452.0 L920.3,452.6 L921.7,453.3 L923.0,453.9 L924.4,454.5 L925.8,455.1 L927.2,455.7 L928.5,456.3 L929.9,456.9 L931.3,457.5 L932.7,458.1 L934.1,458.6 L935.5,459.2 L936.9,459.7 L938.3,460.2 L939.7,460.8 L941.1,461.3 L942.5,461.8 L943.9,462.3 L945.3,462.8 L946.8,463.3 L948.2,463.8 L949.6,464.3 L951.0,464.7 L952.4,465.2 L953.9,465.7 L955.3,466.1 L956.7,466.6 L958.2,467.0 L959.6,467.5 L961.0,467.9 L962.5,468.3 L963.9,468.8 L965.4,469.2 L966.8,469.6 L968.2,470.0 L969.7,470.4 L971.1,470.8 L972.6,471.2 L974.0,471.6 L975.5,472.0 L976.9,472.4 L978.4,472.8 L979.8,473.1 L981.3,473.5 L982.7,473.9 L984.2,474.2 L985.7,474.6 L987.1,475.0 L988.6,475.3 L990.0,475.7 L991.5,476.0 L992.9,476.4 L994.4,476.7 L995.9,477.1 L997.3,477.4 L998.8,477.7 L1000.3,478.1 L1001.7,478.4 L1003.2,478.7 L1004.7,479.0 L1006.1,479.4 L1007.6,479.7 L1009.1,480.0 L1010.5,480.3 L1012.0,480.6 L1013.5,480.9 L1014.9,481.2 L1016.4,481.5 L1017.9,481.8 L1019.3,482.1 L1020.8,482.4 L1022.3,482.7 L1023.8,483.0 L1025.2,483.3 L1026.7,483.6 L1028.2,483.9 L1029.6,484.2 L1031.1,484.4 L1032.6,484.7 L1034.1,485.0 L1035.5,485.3 L1037.0,485.5 L1038.5,485.8" stroke="#000" stroke-width="6"/>
<path d="M518.0,471.5 L519.4,471.0 L520.9,470.5 L522.3,470.1 L523.7,469.6 L525.1,469.2 L526.6,468.7 L528.0,468.3 L529.4,467.8 L530.9,467.4 L532.3,466.9 L533.7,466.5 L535.2,466.0 L536.6,465.6 L538.0,465.2 L539.5,464.7 L540.9,464.3 L542.4,463.9 L543.8,463.4 L545.2,463.0 L546.7,462.6 L548.1,462.1 L549.5,461.7 L551.0,461.3 L552.4,460.8 L553.8,460.4 L555.3,460.0 L556.7,459.6 L558.2,459.1 L559.6,458.7 L561.0,458.3 L562.5,457.8 L563.9,457.4 L565.3,456.9 L566.8,456.5 L568.2,456.0 L569.6,455.6 L571.1,455.1 L572.5,454.7 L573.9,454.2 L575.4,453.8 L576.8,453.3 L578.2,452.8 L579.6,452.4 L581.0,451.9 L582.5,451.4 L583.9,450.9 L585.3,450.4 L586.7,449.9 L588.1,449.4 L589.5,448.9 L590.9,448.3 L592.3,447.8 L593.7,447.2 L595.1,446.7 L596.5,446.1 L597.9,445.6 L599.3,445.0 L600.7,444.4 L602.0,443.8 L603.4,443.2 L604.8,442.5 L606.1,441.9 L607.5,441.2 L608.8,440.6 L610.2,439.9 L611.5,439.2 L612.8,438.5 L614.1,437.8 L615.5,437.1 L616.8,436.3 L618.1,435.6 L619.4,434.8 L620.6,434.0 L621.9,433.2 L623.2,432.4 L624.4,431.6 L625.7,430.8 L626.9,429.9 L628.1,429.1 L629.4,428.2 L630.6,427.3 L631.8,426.4 L633.0,425.5 L634.1,424.6 L635.3,423.6 L636.5,422.7 L637.6,421.7 L638.7,420.7 L639.9,419.7 L641.0,418.7 L642.1,417.7 L643.2,416.7 L644.3,415.6 L645.3,414.6 L646.4,413.5 L647.4,412.5 L648.5,411.4 L649.5,410.3 L650.5,409.2 L651.5,408.1 L652.5,407.0 L653.5,405.8 L654.5,404.7 L655.5,403.5 L656.4,402.4 L657.4,401.2 L658.3,400.1 L659.3,398.9 L660.2,397.7 L661.1,396.5 L662.0,395.3 L662.9,394.1 L663.8,392.9 L664.7,391.7 L665.5,390.5 L666.4,389.2 L667.3,388.0 L668.1,386.8 L669.0,385.5 L669.8,384.3 L670.6,383.0 L671.4,381.8 L672.2,380.5 L673.0,379.2 L673.8,378.0 L674.6,376.7 L675.4,375.4 L676.2,374.1 L677.0,372.8 L677.7,371.6 L678.5,370.3 L679.3,369.0 L680.0,367.7 L680.7,366.4 L681.5,365.1 L682.2,363.7 L682.9,362.4 L683.7,361.1 L684.4,359.8 L685.1,358.5 L685.8,357.2 L686.5,355.8 L687.2,354.5 L687.9,353.2 L688.6,351.8 L689.3,350.5 L689.9,349.2 L690.6,347.8 L691.3,346.5 L691.9,345.1 L692.6,343.8 L693.3,342.4 L693.9,341.1 L694.6,339.7 L695.2,338.4 L695.9,337.0 L696.5,335.7 L697.2,334.3 L697.8,333.0 L698.4,331.6 L699.1,330.2 L699.7,328.9 L700.3,327.5 L700.9,326.1 L701.6,324.8 L702.2,323.4 L702.8,322.0 L703.4,320.7 L704.0,319.3 L704.6,317.9 L705.2,316.6 L705.8,315.2 L706.4,313.8 L707.0,312.4 L707.6,311.1 L708.2,309.7 L708.8,308.3 L709.4,306.9 L710.0,305.5 L710.6,304.2 L711.2,302.8 L711.7,301.4 L712.3,300.0 L712.9,298.6 L713.5,297.2 L714.1,295.9 L714.6,294.5 L715.2,293.1 L715.8,291.7 L716.4,290.3 L716.9,288.9 L717.5,287.5 L718.1,286.2 L718.6,284.8 L719.2,283.4 L719.8,282.0 L720.3,280.6 L720.9,279.2 L721.5,277.8 L722.0,276.4 L722.6,275.0 L723.2,273.6 L723.7,272.3 L724.3,270.9 L724.9,269.5 L725.4,268.1 L726.0,266.7 L726.5,265.3 L727.1,263.9 L727.7,262.5 L728.2,261.1 L728.8,259.7 L729.4,258.4 L729.9,257.0 L730.5,255.6 L731.1,254.2 L731.6,252.8 L732.2,251.4 L732.8,250.0 L733.3,248.6 L733.9,247.2 L734.5,245.8 L735.0,244.5 L735.6,243.1 L736.2,241.7 L736.8,240.3 L737.3,238.9 L737.9,237.5 L738.5,236.2 L739.1,234.8 L739.7,233.4 L740.3,232.0 L740.8,230.6 L741.4,229.2 L742.0,227.9 L742.6,226.5 L743.2,225.1 L743.8,223.7 L744.4,222.4 L745.0,221.0 L745.6,219.6 L746.3,218.3 L746.9,216.9 L747.5,215.5 L748.1,214.2 L748.8,212.8 L749.4,211.4 L750.0,210.1 L750.7,208.7 L751.3,207.4 L752.0,206.0 L752.7,204.7 L753.3,203.3 L754.0,202.0 L754.7,200.7 L755.4,199.3 L756.1,198.0 L756.8,196.7 L757.5,195.4 L758.2,194.1 L759.0,192.8 L759.7,191.5 L760.5,190.2 L761.3,188.9 L762.1,187.6 L762.9,186.3 L763.7,185.1 L764.6,183.9 L765.4,182.6 L766.3,181.4 L767.2,180.2 L768.1,179.0 L769.1,177.9 L770.1,176.7 L771.1,175.6 L772.1,174.6 L773.2,173.6 L774.4,172.6 L775.6,171.6 L776.8,170.8 L778.1,170.0 L779.4,169.3 L780.8,168.8 L782.2,168.3 L783.7,168.0 L785.2,167.9 L786.7,168.0 L788.2,168.2 L789.6,168.6 L791.0,169.1 L792.4,169.7 L793.7,170.4 L795.0,171.2 L796.2,172.1 L797.4,173.0 L798.5,174.0 L799.6,175.1 L800.6,176.1 L801.6,177.2 L802.6,178.4 L803.6,179.5 L804.5,180.7 L805.4,181.9 L806.3,183.1 L807.2,184.3 L808.0,185.6 L808.8,186.8 L809.7,188.1 L810.5,189.4 L811.2,190.6 L812.0,191.9 L812.8,193.2 L813.5,194.5 L814.3,195.8 L815.0,197.1 L815.7,198.4 L816.4,199.8 L817.1,201.1 L817.8,202.4 L818.5,203.8 L819.2,205.1 L819.9,206.4 L820.6,207.8 L821.2,209.1 L821.9,210.5 L822.5,211.8 L823.2,213.2 L823.8,214.5 L824.5,215.9 L825.1,217.2 L825.8,218.6 L826.4,220.0 L827.0,221.3 L827.6,222.7 L828.3,224.0 L828.9,225.4 L829.5,226.8 L830.1,228.1 L830.7,229.5 L831.3,230.9 L832.0,232.3 L832.6,233.6 L833.2,235.0 L833.8,236.4 L834.4,237.7 L835.0,239.1 L835.6,240.5 L836.2,241.9 L836.8,243.2 L837.4,244.6 L838.0,246.0 L838.6,247.4 L839.2,248.7 L839.8,250.1 L840.4,251.5 L841.0,252.9 L841.6,254.2 L842.2,255.6 L842.8,257.0 L843.4,258.4 L844.0,259.8 L844.6,261.1 L845.2,262.5 L845.8,263.9 L846.4,265.3 L847.0,266.6 L847.6,268.0 L848.2,269.4 L848.8,270.8 L849.4,272.1 L850.0,273.5 L850.6,274.9 L851.2,276.2 L851.8,277.6 L852.4,279.0 L853.0,280.4 L853.6,281.7 L854.3,283.1 L854.9,284.5 L855.5,285.8 L856.1,287.2 L856.7,288.6 L857.3,289.9 L858.0,291.3 L858.6,292.7 L859.2,294.0 L859.9,295.4 L860.5,296.7 L861.1,298.1 L861.8,299.5 L862.4,300.8 L863.0,302.2 L863.7,303.5 L864.3,304.9 L865.0,306.2 L865.6,307.6 L866.3,308.9 L866.9,310.3 L867.6,311.6 L868.3,313.0 L868.9,314.3 L869.6,315.7 L870.3,317.0 L870.9,318.3 L871.6,319.7 L872.3,321.0 L873.0,322.4 L873.7,323.7 L874.4,325.0 L875.1,326.4 L875.8,327.7 L876.5,329.0 L877.2,330.3 L877.9,331.7 L878.6,333.0 L879.3,334.3 L880.0,335.6 L880.7,336.9 L881.5,338.2 L882.2,339.6 L882.9,340.9 L883.7,342.2 L884.4,343.5 L885.2,344.8 L885.9,346.1 L886.7,347.4 L887.4,348.7 L888.2,349.9 L889.0,351.2 L889.8,352.5 L890.5,353.8 L891.3,355.1 L892.1,356.3 L892.9,357.6 L893.7,358.9 L894.5,360.2 L895.3,361.4 L896.1,362.7 L897.0,363.9 L897.8,365.2 L898.6,366.4 L899.5,367.7 L900.3,368.9 L901.1,370.2 L902.0,371.4 L902.9,372.6 L903.7,373.9 L904.6,375.1 L905.5,376.3 L906.4,377.5 L907.2,378.7 L908.1,379.9 L909.0,381.1 L909.9,382.3 L910.9,383.5 L911.8,384.7 L912.7,385.9 L913.6,387.1 L914.6,388.2 L915.5,389.4 L916.5,390.6 L917.4,391.7 L918.4,392.9 L919.3,394.0 L920.3,395.1 L921.3,396.3 L922.3,397.4 L923.3,398.5 L924.3,399.6 L925.3,400.8 L926.3,401.9 L927.3,403.0 L928.4,404.0 L929.4,405.1 L930.5,406.2 L931.5,407.3 L932.6,408.3 L933.6,409.4 L934.7,410.5 L935.8,411.5 L936.9,412.5 L937.9,413.6 L939.0,414.6 L940.1,415.6 L941.3,416.6 L942.4,417.6 L943.5,418.6 L944.6,419.6 L945.8,420.6 L946.9,421.5 L948.1,422.5 L949.2,423.5 L950.4,424.4 L951.6,425.3 L952.7,426.3 L953.9,427.2 L955.1,428.1 L956.3,429.0 L957.5,429.9 L958.7,430.8 L959.9,431.7 L961.2,432.6 L962.4,433.4 L963.6,434.3 L964.9,435.1 L966.1,436.0 L967.4,436.8 L968.6,437.6 L969.9,438.4 L971.1,439.2 L972.4,440.0 L973.7,440.8 L975.0,441.6 L976.3,442.3 L977.6,443.1 L978.9,443.8 L980.2,444.6 L981.5,445.3 L982.8,446.0 L984.1,446.7 L985.4,447.5 L986.8,448.2 L988.1,448.8 L989.4,449.5 L990.8,450.2 L992.1,450.8 L993.5,451.5 L994.8,452.1 L996.2,452.8 L997.6,453.4 L998.9,454.0 L1000.3,454.6 L1001.7,455.2 L1003.0,455.8 L1004.4,456.4 L1005.8,457.0 L1007.2,457.6 L1008.6,458.1 L1010.0,458.7 L1011.4,459.2 L1012.8,459.7 L1014.2,460.3 L1015.6,460.8 L1017.0,461.3 L1018.4,461.8 L1019.9,462.3 L1021.3,462.8 L1022.7,463.2 L1024.1,463.7 L1025.5,464.2 L1027.0,464.6 L1028.4,465.1 L1029.8,465.5 L1031.3,465.9 L1032.7,466.4 L1034.2,466.8 L1035.6,467.2 L1037.1,467.6 L1038.5,468.0" stroke="#f00" stroke-width="6"/>
</g>
<path d="M517.9,130.3 V541 M1038.5,130.3 V541 M514.9,133.3 H1041.5 M514.9,534.4 H1041.5" stroke="#000" stroke-width="6.1" fill="none"/>
<line x1="725.8" y1="531.5" x2="725.8" y2="518.4" stroke="#000" stroke-width="5.7"/><line x1="933.4" y1="531.5" x2="933.4" y2="518.4" stroke="#000" stroke-width="5.7"/>
<line x1="351.2" y1="156.2" x2="480" y2="156.2" stroke="#000" stroke-width="7"/>
<path d="M476.5,147 L511,156.2 L476.5,165 Z" fill="#000"/>
<line x1="1137.5" y1="175" x2="1270.5" y2="175" stroke="#000" stroke-width="9.5" stroke-linecap="round"/>
<line x1="1137.5" y1="249.9" x2="1270.5" y2="249.9" stroke="#f00" stroke-width="9" stroke-linecap="round"/>
</svg>
</body></html>
